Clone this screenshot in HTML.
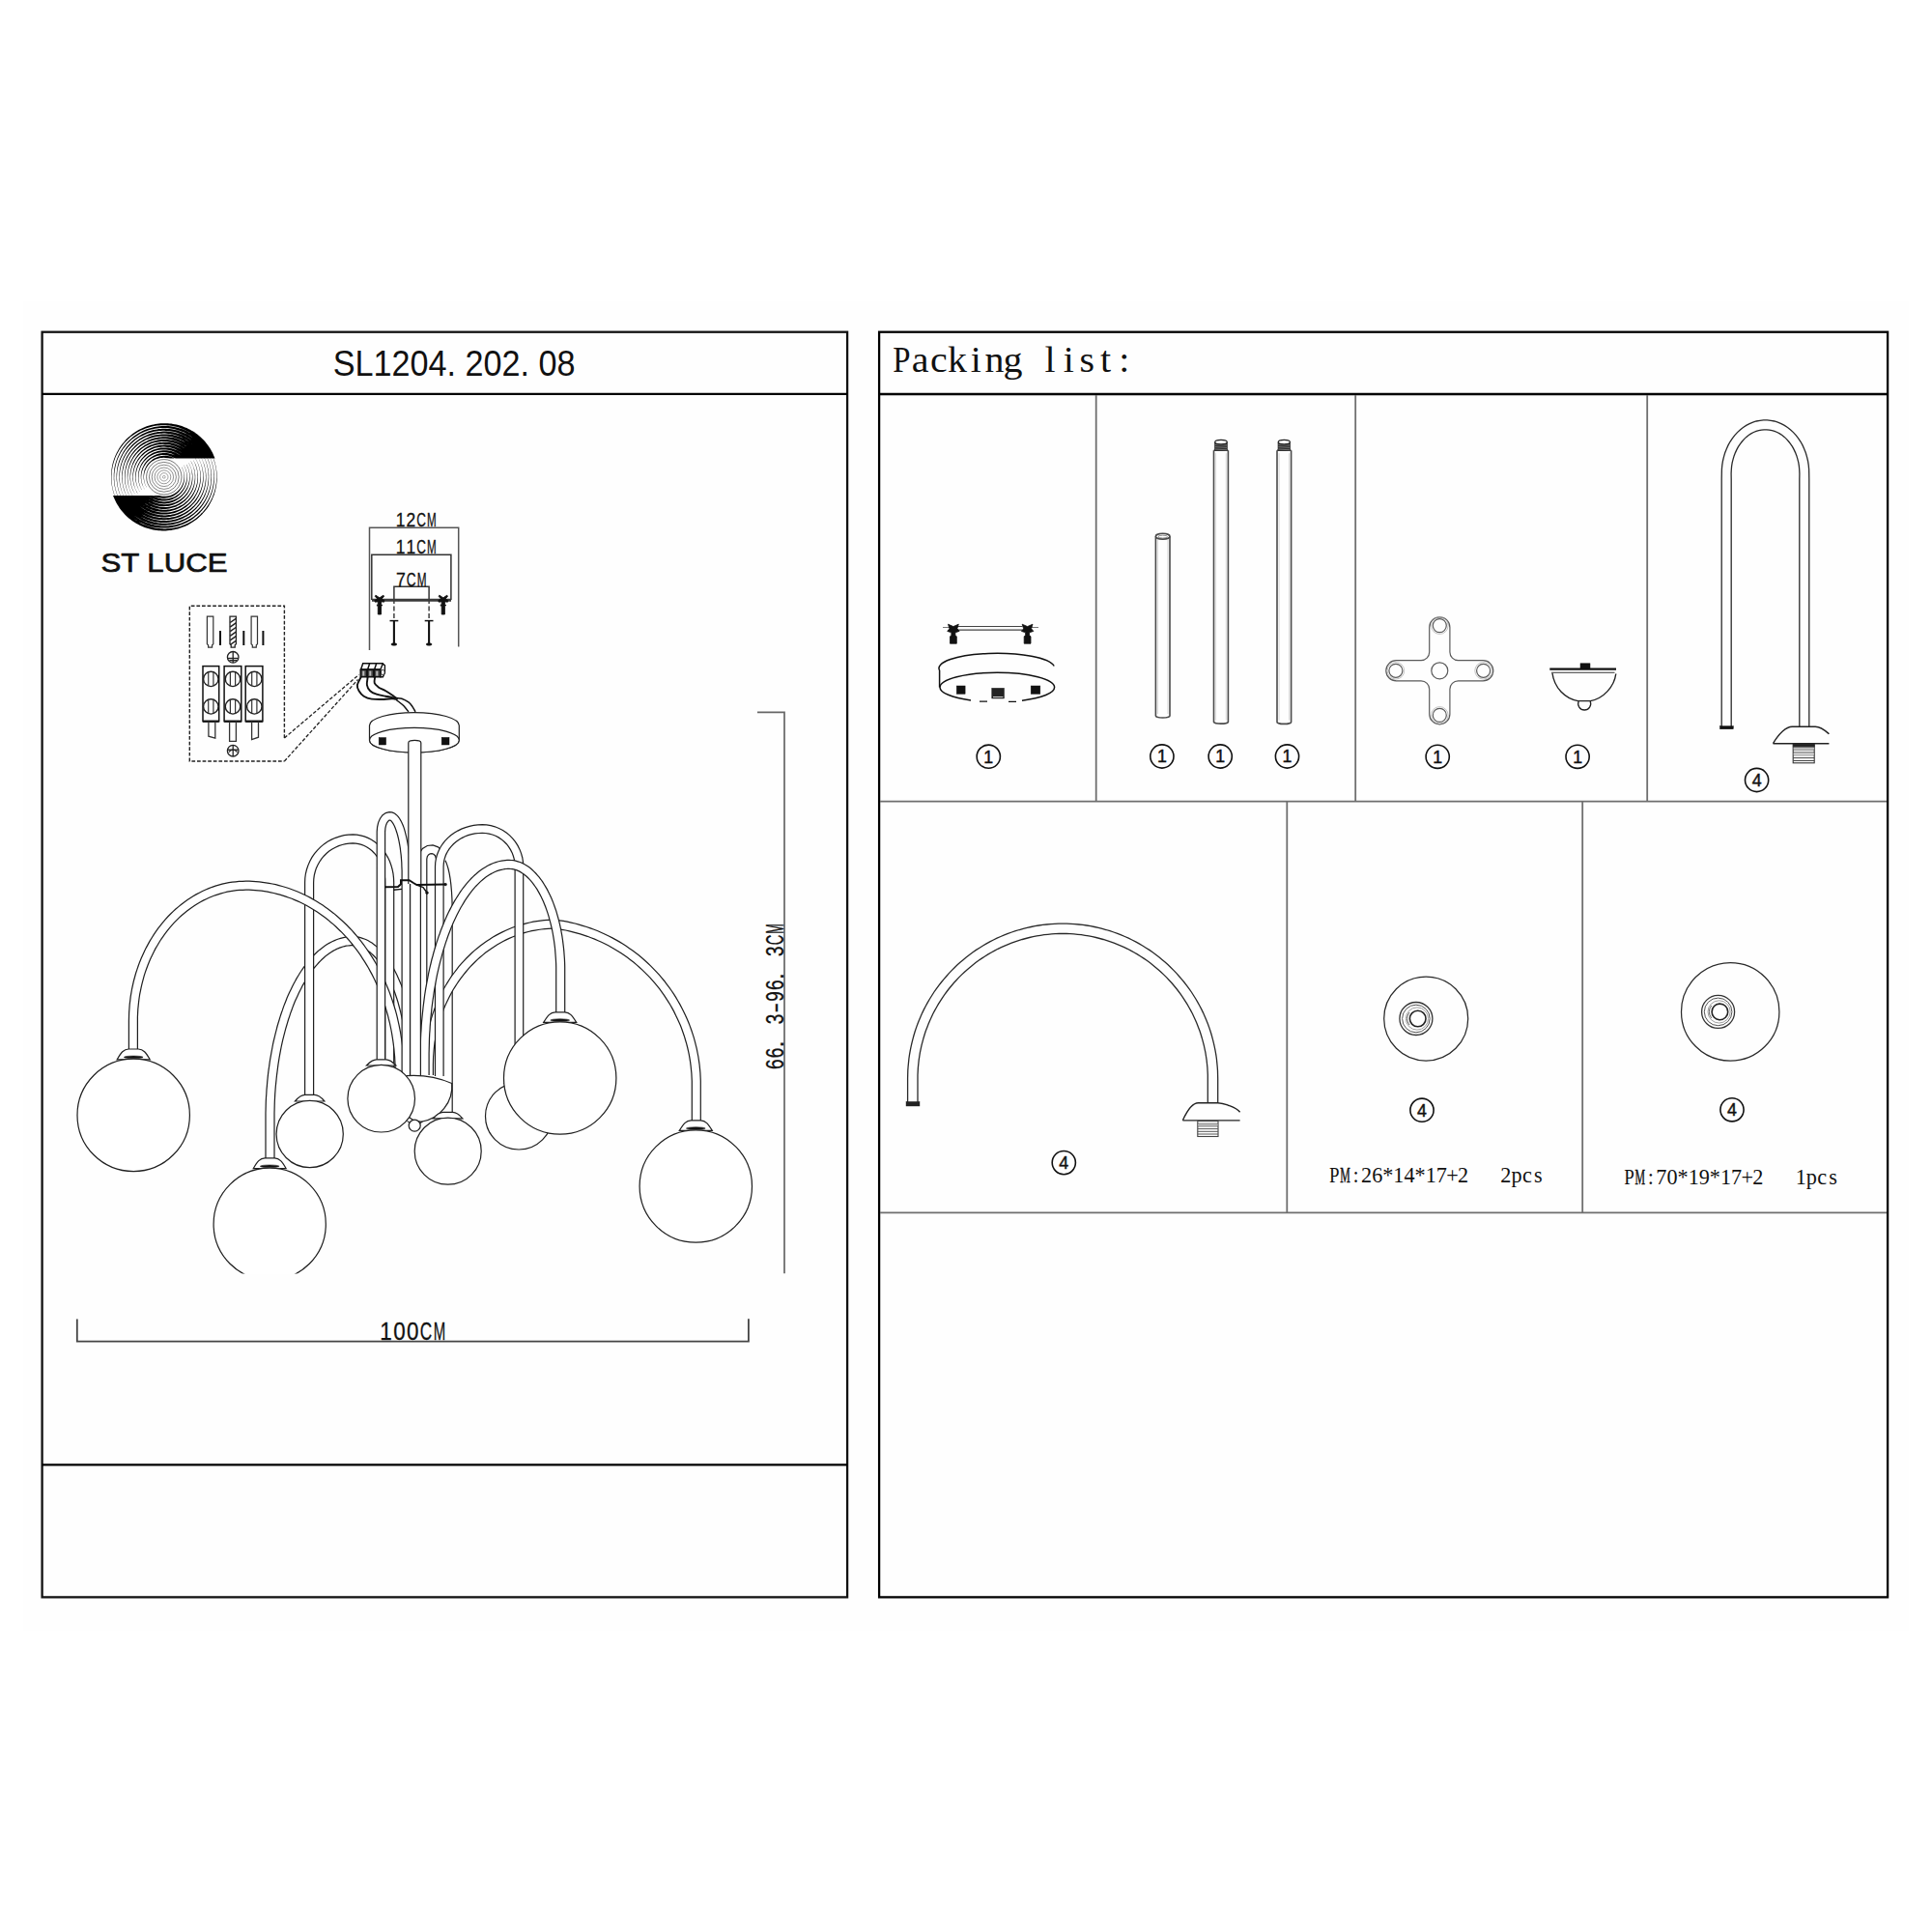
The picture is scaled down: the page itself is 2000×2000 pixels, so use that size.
<!DOCTYPE html>
<html><head><meta charset="utf-8"><title>SL1204.202.08</title>
<style>
html,body{margin:0;padding:0;background:#fff;}
body{width:2000px;height:2000px;position:relative;overflow:hidden;font-family:"Liberation Sans",sans-serif;}
</style></head><body>
<svg width="2000" height="2000" viewBox="0 0 2000 2000" style="position:absolute;left:0;top:0">
<rect x="24" y="312" width="1952" height="1376" fill="#fefefe" stroke="none" stroke-width="0" />
<rect x="43.6" y="343.7" width="833.5" height="1309.7" fill="none" stroke="#111" stroke-width="2.3" />
<line x1="43.6" y1="407.8" x2="877.1" y2="407.8" stroke="#000" stroke-width="2.3" />
<line x1="43.6" y1="1516.3" x2="877.1" y2="1516.3" stroke="#000" stroke-width="2.3" />
<rect x="910.1" y="343.7" width="1044" height="1309.7" fill="none" stroke="#000" stroke-width="2.3" />
<line x1="910.2" y1="408" x2="1954.2" y2="408" stroke="#000" stroke-width="2.3" />
<line x1="911" y1="829.7" x2="1953" y2="829.7" stroke="#6e6e6e" stroke-width="1.8" />
<line x1="911" y1="1255.4" x2="1953" y2="1255.4" stroke="#6e6e6e" stroke-width="1.8" />
<line x1="1134.7" y1="409" x2="1134.7" y2="829.7" stroke="#6e6e6e" stroke-width="1.8" />
<line x1="1403.2" y1="409" x2="1403.2" y2="829.7" stroke="#6e6e6e" stroke-width="1.8" />
<line x1="1705.2" y1="409" x2="1705.2" y2="829.7" stroke="#6e6e6e" stroke-width="1.8" />
<line x1="1332.3" y1="829.7" x2="1332.3" y2="1255.4" stroke="#6e6e6e" stroke-width="1.8" />
<line x1="1638.2" y1="829.7" x2="1638.2" y2="1255.4" stroke="#6e6e6e" stroke-width="1.8" />
<text x="344.8" y="389.4" font-family="Liberation Sans" font-size="36.3" text-anchor="start" fill="#111" font-weight="normal" textLength="250.8" lengthAdjust="spacingAndGlyphs" xml:space="preserve">SL1204. 202. 08</text>
<g font-family="Liberation Serif" font-size="37.7" text-anchor="middle" fill="#111" ><text transform="translate(933.4,385) scale(0.870,1)">P</text><text transform="translate(952.6,385) scale(1.060,1)">a</text><text transform="translate(971.8,385) scale(1.060,1)">c</text><text transform="translate(991,385) scale(1.060,1)">k</text><text transform="translate(1010.2,385) scale(1.060,1)">i</text><text transform="translate(1029.4,385) scale(1.060,1)">n</text><text transform="translate(1048.6,385) scale(1.060,1)">g</text><text transform="translate(1087,385) scale(1.060,1)">l</text><text transform="translate(1106.2,385) scale(1.060,1)">i</text><text transform="translate(1125.4,385) scale(1.060,1)">s</text><text transform="translate(1144.6,385) scale(1.060,1)">t</text><text transform="translate(1163.8,385) scale(1.060,1)">:</text></g>
<circle cx="1023.3" cy="783.2" r="12.1" fill="none" stroke="#111" stroke-width="1.6" />
<text x="1023.3" y="789.6" font-family="Liberation Sans" font-size="17.8" text-anchor="middle" fill="#111" font-weight="normal" stroke="#111" stroke-width="0.45">1</text>
<circle cx="1202.9" cy="783" r="12.1" fill="none" stroke="#111" stroke-width="1.6" />
<text x="1202.9" y="789.4" font-family="Liberation Sans" font-size="17.8" text-anchor="middle" fill="#111" font-weight="normal" stroke="#111" stroke-width="0.45">1</text>
<circle cx="1263.2" cy="783" r="12.1" fill="none" stroke="#111" stroke-width="1.6" />
<text x="1263.2" y="789.4" font-family="Liberation Sans" font-size="17.8" text-anchor="middle" fill="#111" font-weight="normal" stroke="#111" stroke-width="0.45">1</text>
<circle cx="1332.5" cy="783" r="12.1" fill="none" stroke="#111" stroke-width="1.6" />
<text x="1332.5" y="789.4" font-family="Liberation Sans" font-size="17.8" text-anchor="middle" fill="#111" font-weight="normal" stroke="#111" stroke-width="0.45">1</text>
<circle cx="1488.2" cy="783.3" r="12.1" fill="none" stroke="#111" stroke-width="1.6" />
<text x="1488.2" y="789.7" font-family="Liberation Sans" font-size="17.8" text-anchor="middle" fill="#111" font-weight="normal" stroke="#111" stroke-width="0.45">1</text>
<circle cx="1633.1" cy="783.3" r="12.1" fill="none" stroke="#111" stroke-width="1.6" />
<text x="1633.1" y="789.7" font-family="Liberation Sans" font-size="17.8" text-anchor="middle" fill="#111" font-weight="normal" stroke="#111" stroke-width="0.45">1</text>
<circle cx="1818.6" cy="807.5" r="12.1" fill="none" stroke="#111" stroke-width="1.6" />
<text x="1818.6" y="813.9" font-family="Liberation Sans" font-size="17.8" text-anchor="middle" fill="#111" font-weight="normal" stroke="#111" stroke-width="0.45">4</text>
<circle cx="1101.3" cy="1203.6" r="12.1" fill="none" stroke="#111" stroke-width="1.6" />
<text x="1101.3" y="1210" font-family="Liberation Sans" font-size="17.8" text-anchor="middle" fill="#111" font-weight="normal" stroke="#111" stroke-width="0.45">4</text>
<circle cx="1472" cy="1149.2" r="12.1" fill="none" stroke="#111" stroke-width="1.6" />
<text x="1472" y="1155.6" font-family="Liberation Sans" font-size="17.8" text-anchor="middle" fill="#111" font-weight="normal" stroke="#111" stroke-width="0.45">4</text>
<circle cx="1793" cy="1148.8" r="12.1" fill="none" stroke="#111" stroke-width="1.6" />
<text x="1793" y="1155.2" font-family="Liberation Sans" font-size="17.8" text-anchor="middle" fill="#111" font-weight="normal" stroke="#111" stroke-width="0.45">4</text>
<g font-family="Liberation Serif" font-size="22.2" text-anchor="middle" fill="#111" xml:space="preserve"><text transform="translate(1381.2,1223.5) scale(0.854,1)">P</text><text transform="translate(1392.4,1223.5) scale(0.534,1)" stroke="#111" stroke-width="0.5">M</text><text x="1403.5" y="1223.5">:</text><text x="1414.5" y="1223.5">2</text><text x="1425.7" y="1223.5">6</text><text x="1436.8" y="1223.5">*</text><text x="1447.9" y="1223.5">1</text><text x="1459" y="1223.5">4</text><text x="1470" y="1223.5">*</text><text x="1481.2" y="1223.5">1</text><text x="1492.2" y="1223.5">7</text><text x="1503.4" y="1223.5">+</text><text x="1514.5" y="1223.5">2</text><text x="1558.9" y="1223.5">2</text><text x="1570" y="1223.5">p</text><text x="1581" y="1223.5">c</text><text x="1592.2" y="1223.5">s</text></g>
<g font-family="Liberation Serif" font-size="22.2" text-anchor="middle" fill="#111" xml:space="preserve"><text transform="translate(1686.5,1225.9) scale(0.854,1)">P</text><text transform="translate(1697.7,1225.9) scale(0.534,1)" stroke="#111" stroke-width="0.5">M</text><text x="1708.8" y="1225.9">:</text><text x="1719.8" y="1225.9">7</text><text x="1731" y="1225.9">0</text><text x="1742" y="1225.9">*</text><text x="1753.2" y="1225.9">1</text><text x="1764.2" y="1225.9">9</text><text x="1775.3" y="1225.9">*</text><text x="1786.5" y="1225.9">1</text><text x="1797.5" y="1225.9">7</text><text x="1808.7" y="1225.9">+</text><text x="1819.8" y="1225.9">2</text><text x="1864.2" y="1225.9">1</text><text x="1875.2" y="1225.9">p</text><text x="1886.3" y="1225.9">c</text><text x="1897.5" y="1225.9">s</text></g>
<defs><clipPath id="lc1"><path d="M100,430H240V474.6 H169.8 V560 H100Z"/></clipPath><clipPath id="lc2"><path d="M240,560H100V513 H169.8 V430 H240Z"/></clipPath></defs>
<path d="M180.6,474.3L178.8,473.4 177,472.8 175.2,472.3 173.3,472 171.4,471.8 169.5,471.8 167.6,472 165.7,472.3 163.8,472.8 162.1,473.4 160.3,474.2 158.7,475.1 157.2,476.2 155.7,477.4 154.4,478.7 153.2,480.1 152.1,481.6 151.1,483.2 150.3,484.9 149.6,486.6 149.1,488.4 148.8,490.2 148.6,492.1 148.6,493.9 148.7,495.7 149,497.6 149.4,499.3 150,501.1 150.7,502.8 151.6,504.4 151.7,504.3 150.9,502.7 150.2,501 149.7,499.3 149.3,497.5 149.1,495.7 149,493.9 149.1,492.1 149.4,490.3 149.8,488.6 150.4,486.9 151.1,485.3 151.9,483.7 152.9,482.2 154,480.8 155.2,479.5 156.5,478.3 157.9,477.3 159.4,476.4 161,475.6 162.6,474.9 164.3,474.4 166,474.1 167.7,473.9 169.5,473.8 171.2,473.9 172.9,474.2 174.6,474.6 176.2,475.1 177.8,475.8 179.3,476.6ZM186.5,474.8L184.9,473.6 183.3,472.6 181.6,471.6 179.8,470.8 178,470.2 176.2,469.7 174.3,469.3 172.4,469.1 170.5,469 168.6,469 166.7,469.3 164.8,469.6 163,470.1 161.2,470.7 159.5,471.5 157.8,472.4 156.2,473.4 154.7,474.6 153.3,475.8 152,477.1 150.8,478.6 149.7,480.1 148.8,481.7 147.9,483.4 147.2,485.1 146.6,486.9 146.2,488.7 145.9,490.5 145.8,492.3 145.8,494.2 145.9,496 146.2,497.9 146.6,499.7 147.1,501.4 147.8,503.1 148.6,504.8 149.5,506.4 149.6,506.3 148.7,504.7 148,503 147.4,501.3 146.9,499.6 146.5,497.8 146.3,496 146.2,494.2 146.3,492.4 146.5,490.6 146.9,488.8 147.4,487.1 148,485.4 148.7,483.7 149.6,482.2 150.6,480.7 151.6,479.3 152.8,477.9 154.1,476.7 155.5,475.6 157,474.6 158.5,473.7 160.1,472.9 161.8,472.3 163.5,471.8 165.2,471.4 166.9,471.1 168.7,471 170.4,471 172.2,471.2 173.9,471.5 175.6,471.9 177.2,472.5 178.8,473.2 180.4,474 181.8,474.9 183.2,475.9 184.5,477ZM190.9,475.3L189.6,473.9 188.2,472.6 186.7,471.4 185.1,470.4 183.4,469.4 181.7,468.6 180,467.9 178.2,467.3 176.3,466.8 174.5,466.5 172.6,466.3 170.7,466.2 168.8,466.2 166.9,466.4 165.1,466.7 163.3,467.1 161.5,467.7 159.7,468.3 158,469.1 156.4,470 154.8,471 153.3,472.1 151.9,473.3 150.6,474.6 149.3,476 148.2,477.4 147.1,479 146.2,480.6 145.4,482.2 144.7,483.9 144.1,485.7 143.6,487.4 143.3,489.2 143.1,491.1 143,492.9 143,494.7 143.1,496.6 143.4,498.4 143.8,500.1 144.3,501.9 144.9,503.6 145.7,505.3 146.5,506.9 146.7,506.8 145.9,505.2 145.2,503.5 144.6,501.8 144.1,500.1 143.8,498.3 143.5,496.5 143.4,494.7 143.5,492.9 143.6,491.1 143.9,489.3 144.3,487.6 144.8,485.9 145.4,484.2 146.2,482.6 147,481 148,479.5 149,478.1 150.2,476.7 151.4,475.4 152.7,474.2 154.1,473.1 155.6,472.2 157.1,471.3 158.7,470.5 160.3,469.8 162,469.3 163.7,468.8 165.4,468.5 167.1,468.3 168.9,468.2 170.6,468.2 172.4,468.4 174.1,468.7 175.8,469.1 177.4,469.6 179.1,470.2 180.6,470.9 182.1,471.8 183.6,472.7 185,473.7 186.3,474.8 187.5,476 188.7,477.3ZM194.9,475.7L193.7,474.2 192.4,472.8 191.1,471.4 189.6,470.1 188.1,469 186.5,467.9 184.8,467 183.1,466.1 181.3,465.4 179.5,464.8 177.7,464.3 175.8,463.9 173.9,463.6 172.1,463.4 170.2,463.4 168.3,463.5 166.4,463.6 164.5,463.9 162.7,464.4 160.9,464.9 159.1,465.5 157.4,466.3 155.7,467.2 154.1,468.1 152.5,469.2 151.1,470.3 149.6,471.6 148.3,472.9 147.1,474.3 145.9,475.7 144.9,477.3 143.9,478.9 143.1,480.5 142.3,482.2 141.7,484 141.1,485.7 140.7,487.6 140.4,489.4 140.2,491.2 140.2,493.1 140.2,494.9 140.3,496.8 140.6,498.6 141,500.4 141.5,502.2 142.1,503.9 142.8,505.6 143.6,507.3 144.5,508.9 144.6,508.8 143.7,507.2 143,505.5 142.3,503.8 141.7,502.1 141.3,500.3 141,498.5 140.8,496.7 140.6,494.9 140.7,493.1 140.8,491.3 141,489.5 141.4,487.7 141.8,485.9 142.4,484.2 143.1,482.6 143.9,480.9 144.7,479.3 145.7,477.8 146.8,476.4 147.9,475 149.2,473.7 150.5,472.5 151.9,471.3 153.3,470.3 154.8,469.3 156.4,468.5 158,467.7 159.7,467.1 161.4,466.5 163.1,466.1 164.8,465.8 166.6,465.5 168.4,465.4 170.1,465.4 171.9,465.5 173.6,465.8 175.4,466.1 177.1,466.5 178.8,467.1 180.4,467.7 182,468.5 183.5,469.3 185,470.2 186.4,471.3 187.7,472.4 189,473.6 190.2,474.8 191.4,476.1 192.4,477.5ZM198.5,476.1L197.5,474.6 196.3,473 195.1,471.6 193.8,470.2 192.5,468.9 191,467.7 189.5,466.6 187.9,465.5 186.3,464.6 184.6,463.7 182.8,463 181.1,462.3 179.3,461.8 177.5,461.3 175.6,461 173.8,460.8 171.9,460.6 170,460.6 168.2,460.7 166.3,460.8 164.5,461.1 162.6,461.5 160.8,462 159.1,462.6 157.3,463.2 155.7,464 154,464.9 152.4,465.8 150.9,466.9 149.4,468 148,469.2 146.7,470.5 145.5,471.9 144.3,473.3 143.2,474.8 142.2,476.3 141.3,477.9 140.4,479.5 139.7,481.2 139.1,482.9 138.5,484.7 138.1,486.5 137.8,488.3 137.5,490.1 137.4,491.9 137.4,493.7 137.4,495.6 137.6,497.4 137.9,499.2 138.2,501 138.7,502.7 139.3,504.4 139.9,506.1 140.7,507.8 141.5,509.4 142.5,510.9 142.6,510.9 141.7,509.3 140.9,507.7 140.1,506 139.5,504.4 139,502.6 138.6,500.9 138.2,499.1 138,497.3 137.9,495.5 137.8,493.7 137.9,491.9 138.1,490.1 138.4,488.4 138.8,486.6 139.2,484.9 139.8,483.2 140.5,481.5 141.2,479.9 142.1,478.3 143,476.8 144,475.4 145.1,474 146.3,472.6 147.5,471.4 148.9,470.2 150.2,469 151.7,468 153.2,467.1 154.7,466.2 156.3,465.4 157.9,464.7 159.6,464.1 161.3,463.6 163,463.2 164.7,462.9 166.5,462.7 168.3,462.6 170,462.6 171.8,462.7 173.5,462.9 175.2,463.2 176.9,463.6 178.6,464.1 180.2,464.6 181.9,465.3 183.4,466.1 184.9,466.9 186.4,467.8 187.8,468.8 189.2,469.9 190.5,471.1 191.7,472.3 192.9,473.5 194,474.9 195,476.3 196,477.7ZM201.9,476.5L201,474.9 200,473.3 198.9,471.7 197.7,470.3 196.4,468.8 195.1,467.5 193.7,466.2 192.2,465.1 190.6,464 189,462.9 187.4,462 185.7,461.2 184,460.4 182.2,459.8 180.4,459.2 178.6,458.7 176.7,458.3 174.9,458.1 173,457.9 171.1,457.8 169.3,457.8 167.4,457.9 165.5,458.1 163.7,458.4 161.9,458.8 160.1,459.3 158.3,459.9 156.5,460.5 154.8,461.3 153.2,462.1 151.6,463.1 150,464.1 148.5,465.2 147.1,466.3 145.7,467.6 144.4,468.9 143.1,470.3 142,471.7 140.9,473.2 139.9,474.7 138.9,476.3 138.1,478 137.3,479.6 136.7,481.4 136.1,483.1 135.6,484.9 135.2,486.7 134.9,488.5 134.7,490.3 134.6,492.1 134.6,494 134.6,495.8 134.8,497.6 135.1,499.4 135.4,501.2 135.9,503 136.4,504.8 137,506.5 137.8,508.2 138.6,509.8 139.5,511.4 139.6,511.3 138.7,509.7 138,508.1 137.3,506.4 136.7,504.7 136.2,502.9 135.8,501.2 135.4,499.4 135.2,497.6 135.1,495.8 135,494 135.1,492.2 135.3,490.4 135.5,488.6 135.8,486.8 136.3,485.1 136.8,483.3 137.4,481.6 138.1,480 138.9,478.4 139.8,476.8 140.7,475.3 141.7,473.8 142.8,472.4 144,471 145.2,469.7 146.5,468.5 147.9,467.3 149.3,466.2 150.8,465.2 152.3,464.3 153.9,463.5 155.5,462.7 157.1,462 158.8,461.4 160.5,460.9 162.2,460.5 164,460.2 165.8,460 167.5,459.8 169.3,459.8 171.1,459.9 172.8,460 174.6,460.2 176.3,460.6 178,461 179.7,461.5 181.4,462.1 183,462.7 184.6,463.5 186.1,464.3 187.6,465.2 189,466.2 190.4,467.3 191.7,468.4 193,469.6 194.2,470.9 195.4,472.2 196.5,473.5 197.5,474.9 198.5,476.4 199.3,477.9ZM205.2,476.9L204.4,475.2 203.5,473.6 202.5,472 201.4,470.5 200.2,469 199,467.6 197.7,466.2 196.4,464.9 195,463.7 193.5,462.5 191.9,461.5 190.4,460.5 188.7,459.6 187.1,458.7 185.4,458 183.6,457.3 181.9,456.7 180.1,456.2 178.3,455.8 176.4,455.5 174.6,455.2 172.8,455.1 170.9,455 169.1,455 167.2,455.1 165.4,455.3 163.5,455.6 161.7,456 159.9,456.4 158.2,456.9 156.4,457.6 154.7,458.3 153.1,459 151.4,459.9 149.9,460.8 148.3,461.9 146.8,462.9 145.4,464.1 144,465.3 142.7,466.6 141.5,467.9 140.3,469.3 139.2,470.7 138.1,472.2 137.2,473.8 136.3,475.4 135.4,477 134.7,478.7 134,480.4 133.5,482.1 133,483.9 132.6,485.6 132.2,487.4 132,489.2 131.8,491 131.8,492.8 131.8,494.6 131.9,496.5 132.1,498.3 132.3,500.1 132.7,501.8 133.1,503.6 133.7,505.3 134.3,507 134.9,508.7 135.7,510.3 136.5,511.9 137.5,513.5 137.6,513.4 136.7,511.9 135.9,510.3 135.1,508.6 134.5,506.9 133.9,505.2 133.4,503.5 133,501.8 132.7,500 132.5,498.2 132.3,496.4 132.2,494.6 132.3,492.8 132.4,491.1 132.6,489.3 132.8,487.5 133.2,485.8 133.7,484 134.2,482.3 134.8,480.7 135.5,479 136.2,477.4 137.1,475.8 138,474.3 139,472.8 140,471.4 141.1,470 142.3,468.7 143.6,467.4 144.9,466.2 146.2,465.1 147.6,464 149.1,463 150.6,462.1 152.2,461.2 153.7,460.4 155.4,459.7 157,459.1 158.7,458.6 160.4,458.1 162.1,457.7 163.8,457.4 165.6,457.2 167.3,457.1 169.1,457 170.8,457 172.6,457.2 174.3,457.4 176.1,457.7 177.8,458 179.5,458.5 181.1,459 182.8,459.6 184.4,460.3 185.9,461.1 187.5,461.9 188.9,462.8 190.4,463.8 191.8,464.8 193.1,465.9 194.4,467.1 195.6,468.3 196.8,469.5 197.9,470.9 199,472.2 200,473.6 200.9,475.1 201.8,476.6 202.6,478.2ZM208.5,477.2L207.7,475.5 206.8,473.8 205.9,472.2 204.9,470.6 203.8,469.1 202.7,467.6 201.5,466.1 200.2,464.7 198.9,463.4 197.5,462.2 196.1,461 194.6,459.9 193,458.8 191.4,457.8 189.8,456.9 188.1,456.1 186.4,455.4 184.7,454.7 182.9,454.1 181.1,453.6 179.3,453.1 177.5,452.8 175.6,452.5 173.8,452.3 171.9,452.2 170.1,452.2 168.2,452.2 166.4,452.4 164.5,452.6 162.7,452.9 160.9,453.3 159.1,453.7 157.3,454.3 155.6,454.9 153.9,455.6 152.2,456.4 150.6,457.2 149,458.1 147.4,459.1 145.9,460.1 144.4,461.3 143,462.4 141.7,463.7 140.4,465 139.1,466.3 138,467.7 136.8,469.2 135.8,470.7 134.8,472.3 133.9,473.8 133.1,475.5 132.3,477.1 131.6,478.8 131,480.6 130.5,482.3 130,484.1 129.7,485.9 129.4,487.7 129.1,489.5 129,491.3 129,493.1 129,494.9 129.1,496.7 129.3,498.6 129.5,500.4 129.9,502.1 130.3,503.9 130.8,505.6 131.4,507.4 132.1,509.1 132.8,510.7 133.6,512.3 134.5,513.9 135.4,515.5 135.5,515.4 134.6,513.9 133.7,512.3 133,510.6 132.3,509 131.6,507.3 131.1,505.6 130.6,503.8 130.2,502.1 129.9,500.3 129.7,498.5 129.5,496.7 129.4,494.9 129.5,493.1 129.5,491.3 129.7,489.5 130,487.7 130.3,486 130.7,484.2 131.2,482.5 131.7,480.8 132.4,479.1 133.1,477.5 133.9,475.9 134.7,474.3 135.6,472.8 136.6,471.3 137.7,469.8 138.8,468.4 140,467.1 141.2,465.8 142.5,464.6 143.8,463.4 145.2,462.3 146.7,461.3 148.2,460.3 149.7,459.4 151.3,458.5 152.9,457.8 154.5,457.1 156.2,456.4 157.8,455.9 159.5,455.4 161.3,455 163,454.7 164.8,454.5 166.5,454.3 168.3,454.2 170.1,454.2 171.8,454.3 173.6,454.4 175.3,454.7 177.1,455 178.8,455.4 180.5,455.9 182.1,456.4 183.8,457 185.4,457.7 187,458.4 188.5,459.3 190,460.2 191.5,461.1 192.9,462.1 194.3,463.2 195.6,464.4 196.9,465.6 198.1,466.8 199.3,468.1 200.4,469.4 201.4,470.8 202.4,472.2 203.4,473.7 204.2,475.2 205,476.8 205.7,478.4ZM211.6,477.5L210.9,475.8 210.1,474.1 209.3,472.4 208.3,470.8 207.3,469.2 206.3,467.6 205.2,466.1 204,464.7 202.7,463.3 201.4,461.9 200.1,460.6 198.6,459.4 197.1,458.3 195.6,457.2 194,456.2 192.4,455.2 190.8,454.3 189.1,453.5 187.4,452.7 185.7,452.1 183.9,451.5 182.1,450.9 180.3,450.5 178.5,450.1 176.6,449.8 174.8,449.6 172.9,449.5 171.1,449.4 169.2,449.4 167.3,449.5 165.5,449.7 163.7,449.9 161.8,450.2 160,450.6 158.2,451.1 156.5,451.6 154.7,452.2 153,452.9 151.3,453.7 149.7,454.5 148,455.4 146.5,456.4 144.9,457.4 143.5,458.5 142,459.6 140.6,460.8 139.3,462.1 138,463.4 136.8,464.8 135.6,466.2 134.5,467.7 133.4,469.2 132.5,470.7 131.5,472.3 130.7,474 129.9,475.6 129.2,477.3 128.6,479 128,480.8 127.5,482.5 127.1,484.3 126.8,486.1 126.5,487.9 126.3,489.7 126.2,491.6 126.2,493.4 126.2,495.2 126.3,497 126.5,498.8 126.8,500.7 127.1,502.4 127.5,504.2 128,506 128.5,507.7 129.2,509.4 129.9,511.1 130.6,512.7 131.5,514.4 132.4,515.9 132.5,515.9 131.6,514.3 130.8,512.7 130.1,511 129.4,509.3 128.8,507.6 128.3,505.9 127.8,504.1 127.4,502.4 127.1,500.6 126.9,498.8 126.7,497 126.7,495.2 126.6,493.4 126.7,491.6 126.9,489.8 127.1,488 127.4,486.2 127.8,484.5 128.2,482.7 128.7,481 129.3,479.3 130,477.6 130.7,476 131.5,474.4 132.4,472.8 133.3,471.2 134.3,469.8 135.3,468.3 136.4,466.9 137.6,465.5 138.8,464.2 140.1,463 141.4,461.8 142.8,460.6 144.2,459.5 145.7,458.5 147.2,457.6 148.8,456.7 150.3,455.8 152,455.1 153.6,454.4 155.3,453.8 157,453.2 158.7,452.7 160.4,452.3 162.2,452 163.9,451.7 165.7,451.6 167.5,451.4 169.2,451.4 171,451.4 172.8,451.6 174.5,451.7 176.3,452 178,452.3 179.7,452.7 181.4,453.2 183.1,453.8 184.8,454.4 186.4,455.1 188,455.8 189.6,456.6 191.1,457.5 192.6,458.5 194,459.5 195.4,460.5 196.8,461.7 198.1,462.8 199.3,464 200.5,465.3 201.7,466.6 202.8,468 203.9,469.4 204.9,470.8 205.8,472.3 206.7,473.8 207.5,475.4 208.2,477 208.9,478.6ZM214.7,477.8L214.1,476.1 213.4,474.4 212.6,472.7 211.7,471.1 210.8,469.4 209.8,467.9 208.8,466.3 207.7,464.8 206.5,463.4 205.3,462 204,460.6 202.7,459.3 201.3,458 199.9,456.9 198.4,455.7 196.9,454.7 195.3,453.7 193.7,452.7 192.1,451.9 190.5,451 188.8,450.3 187,449.6 185.3,449 183.5,448.4 181.8,448 180,447.6 178.1,447.2 176.3,447 174.5,446.8 172.6,446.6 170.8,446.6 169,446.6 167.1,446.7 165.3,446.9 163.5,447.1 161.7,447.4 159.9,447.8 158.1,448.2 156.3,448.7 154.6,449.3 152.9,449.9 151.2,450.7 149.5,451.4 147.9,452.3 146.3,453.2 144.8,454.1 143.2,455.2 141.8,456.2 140.3,457.4 139,458.6 137.6,459.8 136.3,461.1 135.1,462.5 133.9,463.8 132.8,465.3 131.7,466.7 130.7,468.3 129.8,469.8 128.9,471.4 128,473 127.3,474.7 126.6,476.3 126,478 125.4,479.8 124.9,481.5 124.5,483.3 124.1,485.1 123.8,486.9 123.6,488.6 123.5,490.5 123.4,492.3 123.4,494.1 123.4,495.9 123.6,497.7 123.8,499.5 124,501.3 124.4,503 124.8,504.8 125.2,506.6 125.8,508.3 126.4,510 127.1,511.6 127.8,513.3 128.6,514.9 129.5,516.5 130.4,518 130.5,518 129.6,516.4 128.8,514.8 128,513.2 127.3,511.6 126.6,509.9 126,508.2 125.5,506.5 125.1,504.7 124.7,503 124.4,501.2 124.1,499.4 124,497.7 123.9,495.9 123.8,494.1 123.9,492.3 124,490.5 124.2,488.7 124.4,486.9 124.7,485.2 125.1,483.4 125.6,481.7 126.1,480 126.7,478.3 127.3,476.7 128.1,475 128.8,473.4 129.7,471.8 130.6,470.3 131.5,468.8 132.6,467.3 133.6,465.9 134.8,464.5 135.9,463.2 137.2,461.9 138.4,460.7 139.8,459.5 141.1,458.4 142.6,457.3 144,456.3 145.5,455.3 147,454.4 148.6,453.6 150.2,452.8 151.8,452.1 153.5,451.5 155.1,450.9 156.8,450.4 158.5,449.9 160.2,449.5 162,449.2 163.7,448.9 165.5,448.8 167.2,448.7 169,448.6 170.8,448.6 172.5,448.7 174.3,448.9 176,449.1 177.7,449.4 179.5,449.8 181.2,450.2 182.8,450.7 184.5,451.3 186.1,451.9 187.8,452.6 189.3,453.4 190.9,454.2 192.4,455 193.9,456 195.3,457 196.7,458 198.1,459.1 199.4,460.3 200.7,461.4 201.9,462.7 203.1,463.9 204.2,465.3 205.3,466.6 206.3,468 207.3,469.5 208.2,471 209.1,472.5 209.9,474 210.6,475.6 211.3,477.2 211.9,478.8ZM217.8,478.1L217.2,476.4 216.5,474.7 215.8,472.9 215,471.3 214.1,469.6 213.2,468 212.2,466.4 211.2,464.9 210.1,463.4 208.9,461.9 207.7,460.5 206.5,459.1 205.2,457.8 203.8,456.5 202.4,455.3 200.9,454.1 199.5,453 197.9,452 196.3,451 194.7,450.1 193.1,449.2 191.4,448.4 189.7,447.7 188,447 186.3,446.4 184.5,445.8 182.7,445.3 180.9,444.9 179.1,444.5 177.3,444.3 175.4,444 173.6,443.9 171.8,443.8 169.9,443.8 168.1,443.8 166.2,444 164.4,444.1 162.6,444.4 160.8,444.7 159,445.1 157.2,445.5 155.4,446.1 153.7,446.6 152,447.3 150.3,448 148.6,448.8 147,449.6 145.4,450.5 143.8,451.4 142.3,452.4 140.8,453.5 139.3,454.6 137.9,455.8 136.5,457 135.2,458.2 133.9,459.6 132.7,460.9 131.5,462.3 130.4,463.8 129.4,465.2 128.3,466.8 127.4,468.3 126.5,469.9 125.7,471.5 124.9,473.2 124.2,474.8 123.5,476.5 122.9,478.3 122.4,480 121.9,481.8 121.5,483.5 121.2,485.3 121,487.1 120.8,488.9 120.6,490.7 120.6,492.6 120.6,494.4 120.6,496.2 120.8,498 121,499.8 121.2,501.6 121.6,503.4 122,505.1 122.4,506.9 122.9,508.6 123.5,510.3 124.2,512 124.9,513.7 125.7,515.3 126.5,516.9 127.4,518.5 128.3,520 128.4,520 127.5,518.4 126.7,516.8 125.8,515.2 125.1,513.6 124.4,511.9 123.8,510.2 123.2,508.5 122.7,506.8 122.3,505.1 121.9,503.3 121.6,501.5 121.4,499.7 121.2,498 121.1,496.2 121,494.4 121.1,492.6 121.2,490.8 121.3,489 121.5,487.2 121.8,485.4 122.2,483.7 122.6,481.9 123.1,480.2 123.7,478.5 124.3,476.8 124.9,475.2 125.7,473.5 126.5,471.9 127.3,470.3 128.2,468.8 129.2,467.3 130.2,465.8 131.3,464.4 132.4,463 133.6,461.7 134.8,460.4 136.1,459.1 137.4,457.9 138.7,456.7 140.1,455.6 141.6,454.6 143,453.6 144.5,452.6 146.1,451.8 147.7,450.9 149.3,450.2 150.9,449.5 152.5,448.8 154.2,448.2 155.9,447.7 157.6,447.2 159.4,446.8 161.1,446.5 162.9,446.2 164.6,446 166.4,445.9 168.1,445.8 169.9,445.8 171.7,445.9 173.4,446 175.2,446.2 176.9,446.4 178.7,446.8 180.4,447.1 182.1,447.6 183.8,448.1 185.5,448.7 187.1,449.3 188.7,450 190.3,450.7 191.9,451.5 193.4,452.4 194.9,453.3 196.4,454.3 197.8,455.3 199.2,456.4 200.5,457.5 201.8,458.7 203.1,459.9 204.3,461.1 205.5,462.4 206.6,463.8 207.7,465.2 208.7,466.6 209.7,468 210.6,469.5 211.5,471 212.3,472.6 213.1,474.2 213.8,475.8 214.4,477.4 215,479.1ZM220.8,478.4L220.3,476.7 219.6,474.9 218.9,473.2 218.2,471.5 217.4,469.8 216.5,468.2 215.6,466.5 214.6,465 213.6,463.4 212.5,461.9 211.3,460.4 210.1,459 208.9,457.6 207.6,456.3 206.3,455 204.9,453.7 203.5,452.5 202,451.4 200.5,450.3 198.9,449.3 197.3,448.3 195.7,447.4 194.1,446.6 192.4,445.8 190.7,445 189,444.3 187.2,443.7 185.5,443.2 183.7,442.7 181.9,442.2 180.1,441.9 178.2,441.6 176.4,441.3 174.6,441.1 172.7,441 170.9,441 169,441 167.2,441.1 165.3,441.2 163.5,441.4 161.7,441.7 159.9,442 158.1,442.4 156.3,442.9 154.5,443.4 152.8,444 151.1,444.6 149.4,445.3 147.7,446.1 146,446.9 144.4,447.8 142.8,448.7 141.3,449.7 139.8,450.7 138.3,451.8 136.9,453 135.5,454.2 134.1,455.4 132.8,456.7 131.6,458 130.3,459.4 129.2,460.8 128.1,462.2 127,463.7 126,465.2 125,466.8 124.1,468.4 123.3,470 122.5,471.7 121.8,473.3 121.1,475 120.5,476.7 119.9,478.5 119.4,480.2 119,482 118.6,483.8 118.3,485.6 118.1,487.4 117.9,489.2 117.8,491 117.8,492.8 117.8,494.7 117.8,496.5 118,498.3 118.2,500.1 118.4,501.9 118.8,503.7 119.2,505.5 119.6,507.2 120.1,509 120.7,510.7 121.3,512.4 122,514.1 122.8,515.7 123.6,517.3 124.4,518.9 125.3,520.5 125.4,520.4 124.6,518.9 123.7,517.3 122.9,515.6 122.2,514 121.5,512.3 120.9,510.6 120.4,508.9 119.9,507.1 119.5,505.4 119.1,503.6 118.8,501.8 118.6,500 118.4,498.3 118.3,496.5 118.2,494.7 118.3,492.9 118.3,491.1 118.5,489.3 118.7,487.5 119,485.7 119.3,483.9 119.7,482.2 120.1,480.4 120.6,478.7 121.2,477 121.8,475.3 122.5,473.7 123.3,472 124.1,470.4 124.9,468.8 125.9,467.3 126.8,465.8 127.8,464.3 128.9,462.9 130,461.5 131.2,460.1 132.4,458.8 133.7,457.5 135,456.3 136.3,455.1 137.7,454 139.1,452.9 140.6,451.9 142.1,450.9 143.6,450 145.1,449.1 146.7,448.3 148.3,447.5 150,446.8 151.6,446.2 153.3,445.6 155,445 156.7,444.6 158.5,444.2 160.2,443.8 162,443.5 163.7,443.3 165.5,443.1 167.3,443 169.1,443 170.8,443 172.6,443.1 174.4,443.3 176.1,443.5 177.9,443.8 179.6,444.1 181.3,444.5 183.1,444.9 184.7,445.5 186.4,446 188.1,446.7 189.7,447.3 191.3,448.1 192.9,448.9 194.4,449.7 195.9,450.6 197.4,451.6 198.9,452.6 200.3,453.7 201.6,454.8 203,455.9 204.2,457.1 205.5,458.4 206.7,459.6 207.9,460.9 209,462.3 210.1,463.7 211.1,465.1 212.1,466.6 213,468.1 213.9,469.6 214.7,471.1 215.5,472.7 216.2,474.3 216.8,476 217.4,477.6 218,479.3ZM223.8,478.7L223.3,476.9 222.7,475.2 222.1,473.4 221.3,471.7 220.6,470 219.8,468.3 218.9,466.7 218,465.1 217,463.5 216,461.9 214.9,460.4 213.7,458.9 212.6,457.5 211.3,456.1 210,454.7 208.7,453.4 207.4,452.2 205.9,450.9 204.5,449.8 203,448.7 201.5,447.6 199.9,446.6 198.3,445.7 196.7,444.8 195,443.9 193.3,443.1 191.6,442.4 189.9,441.7 188.2,441.1 186.4,440.5 184.6,440 182.8,439.6 181,439.2 179.2,438.9 177.3,438.6 175.5,438.4 173.7,438.3 171.8,438.2 170,438.2 168.1,438.2 166.3,438.3 164.4,438.5 162.6,438.7 160.8,439 159,439.4 157.2,439.8 155.4,440.2 153.6,440.8 151.9,441.3 150.1,442 148.4,442.7 146.8,443.4 145.1,444.2 143.5,445.1 141.9,446 140.3,447 138.8,448 137.3,449.1 135.9,450.2 134.4,451.4 133.1,452.6 131.7,453.8 130.4,455.1 129.2,456.5 128,457.9 126.8,459.3 125.7,460.7 124.6,462.2 123.6,463.7 122.7,465.3 121.8,466.9 120.9,468.5 120.1,470.2 119.4,471.8 118.7,473.5 118,475.2 117.5,477 116.9,478.7 116.5,480.5 116.1,482.3 115.8,484.1 115.5,485.9 115.3,487.7 115.1,489.5 115,491.3 115,493.1 115,495 115.1,496.8 115.2,498.6 115.4,500.4 115.7,502.2 116,504 116.4,505.8 116.8,507.5 117.3,509.3 117.8,511 118.5,512.7 119.1,514.4 119.8,516.1 120.6,517.7 121.5,519.4 122.3,520.9 123.3,522.5 123.4,522.4 122.5,520.9 121.6,519.3 120.8,517.7 120,516 119.3,514.3 118.7,512.7 118.1,510.9 117.6,509.2 117.1,507.5 116.7,505.7 116.3,503.9 116,502.2 115.8,500.4 115.6,498.6 115.5,496.8 115.4,495 115.4,493.1 115.5,491.3 115.6,489.5 115.8,487.7 116.1,486 116.4,484.2 116.7,482.4 117.2,480.7 117.6,478.9 118.2,477.2 118.8,475.5 119.4,473.8 120.1,472.2 120.9,470.5 121.7,468.9 122.6,467.4 123.5,465.8 124.5,464.3 125.5,462.8 126.5,461.4 127.6,460 128.8,458.6 130,457.2 131.3,456 132.5,454.7 133.9,453.5 135.2,452.3 136.7,451.2 138.1,450.2 139.6,449.2 141.1,448.2 142.6,447.3 144.2,446.4 145.8,445.6 147.4,444.9 149.1,444.2 150.7,443.5 152.4,442.9 154.1,442.4 155.8,441.9 157.6,441.5 159.3,441.1 161.1,440.8 162.8,440.6 164.6,440.4 166.4,440.3 168.2,440.2 170,440.2 171.7,440.3 173.5,440.4 175.3,440.6 177,440.8 178.8,441.1 180.5,441.4 182.3,441.8 184,442.3 185.7,442.8 187.4,443.4 189,444 190.6,444.7 192.3,445.4 193.8,446.2 195.4,447.1 196.9,448 198.4,448.9 199.9,449.9 201.3,451 202.7,452 204.1,453.2 205.4,454.4 206.7,455.6 207.9,456.8 209.1,458.1 210.3,459.4 211.4,460.8 212.5,462.2 213.5,463.6 214.5,465.1 215.4,466.6 216.3,468.1 217.1,469.7 217.9,471.3 218.6,472.9 219.3,474.5 219.9,476.2 220.5,477.8 221,479.5Z" fill="#000" clip-path="url(#lc1)"/>
<path d="M159,513.3L160.8,514.2 162.6,514.8 164.4,515.3 166.3,515.6 168.2,515.8 170.1,515.8 172,515.6 173.9,515.3 175.8,514.8 177.5,514.2 179.3,513.4 180.9,512.5 182.4,511.4 183.9,510.2 185.2,508.9 186.4,507.5 187.5,506 188.5,504.4 189.3,502.7 190,501 190.5,499.2 190.8,497.4 191,495.5 191,493.7 190.9,491.9 190.6,490 190.2,488.3 189.6,486.5 188.9,484.8 188,483.2 187.9,483.3 188.7,484.9 189.4,486.6 189.9,488.3 190.3,490.1 190.5,491.9 190.6,493.7 190.5,495.5 190.2,497.3 189.8,499 189.2,500.7 188.5,502.3 187.7,503.9 186.7,505.4 185.6,506.8 184.4,508.1 183.1,509.3 181.7,510.3 180.2,511.2 178.6,512 177,512.7 175.3,513.2 173.6,513.5 171.9,513.7 170.1,513.8 168.4,513.7 166.7,513.4 165,513 163.4,512.5 161.8,511.8 160.3,511ZM153.1,512.8L154.7,514 156.3,515 158,516 159.8,516.8 161.6,517.4 163.4,517.9 165.3,518.3 167.2,518.5 169.1,518.6 171,518.6 172.9,518.3 174.8,518 176.6,517.5 178.4,516.9 180.1,516.1 181.8,515.2 183.4,514.2 184.9,513 186.3,511.8 187.6,510.5 188.8,509 189.9,507.5 190.8,505.9 191.7,504.2 192.4,502.5 193,500.7 193.4,498.9 193.7,497.1 193.8,495.3 193.8,493.4 193.7,491.6 193.4,489.7 193,487.9 192.5,486.2 191.8,484.5 191,482.8 190.1,481.2 190,481.3 190.9,482.9 191.6,484.6 192.2,486.3 192.7,488 193.1,489.8 193.3,491.6 193.4,493.4 193.3,495.2 193.1,497 192.7,498.8 192.2,500.5 191.6,502.2 190.9,503.9 190,505.4 189,506.9 188,508.3 186.8,509.7 185.5,510.9 184.1,512 182.6,513 181.1,513.9 179.5,514.7 177.8,515.3 176.1,515.8 174.4,516.2 172.7,516.5 170.9,516.6 169.2,516.6 167.4,516.4 165.7,516.1 164,515.7 162.4,515.1 160.8,514.4 159.2,513.6 157.8,512.7 156.4,511.7 155.1,510.6ZM148.7,512.3L150,513.7 151.4,515 152.9,516.2 154.5,517.2 156.2,518.2 157.9,519 159.6,519.7 161.4,520.3 163.3,520.8 165.1,521.1 167,521.3 168.9,521.4 170.8,521.4 172.7,521.2 174.5,520.9 176.3,520.5 178.1,519.9 179.9,519.3 181.6,518.5 183.2,517.6 184.8,516.6 186.3,515.5 187.7,514.3 189,513 190.3,511.6 191.4,510.2 192.5,508.6 193.4,507 194.2,505.4 194.9,503.7 195.5,501.9 196,500.2 196.3,498.4 196.5,496.5 196.6,494.7 196.6,492.9 196.5,491 196.2,489.2 195.8,487.5 195.3,485.7 194.7,484 193.9,482.3 193.1,480.7 192.9,480.8 193.7,482.4 194.4,484.1 195,485.8 195.5,487.5 195.8,489.3 196.1,491.1 196.2,492.9 196.1,494.7 196,496.5 195.7,498.3 195.3,500 194.8,501.7 194.2,503.4 193.4,505 192.6,506.6 191.6,508.1 190.6,509.5 189.4,510.9 188.2,512.2 186.9,513.4 185.5,514.5 184,515.4 182.5,516.3 180.9,517.1 179.3,517.8 177.6,518.3 175.9,518.8 174.2,519.1 172.5,519.3 170.7,519.4 169,519.4 167.2,519.2 165.5,518.9 163.8,518.5 162.2,518 160.5,517.4 159,516.7 157.5,515.8 156,514.9 154.6,513.9 153.3,512.8 152.1,511.6 150.9,510.3ZM144.7,511.9L145.9,513.4 147.2,514.8 148.5,516.2 150,517.5 151.5,518.6 153.1,519.7 154.8,520.6 156.5,521.5 158.3,522.2 160.1,522.8 161.9,523.3 163.8,523.7 165.7,524 167.5,524.2 169.4,524.2 171.3,524.1 173.2,524 175.1,523.7 176.9,523.2 178.7,522.7 180.5,522.1 182.2,521.3 183.9,520.4 185.5,519.5 187.1,518.4 188.5,517.3 190,516 191.3,514.7 192.5,513.3 193.7,511.9 194.7,510.3 195.7,508.7 196.5,507.1 197.3,505.4 197.9,503.6 198.5,501.9 198.9,500 199.2,498.2 199.4,496.4 199.4,494.5 199.4,492.7 199.3,490.8 199,489 198.6,487.2 198.1,485.4 197.5,483.7 196.8,482 196,480.3 195.1,478.7 195,478.8 195.9,480.4 196.6,482.1 197.3,483.8 197.9,485.5 198.3,487.3 198.6,489.1 198.8,490.9 199,492.7 198.9,494.5 198.8,496.3 198.6,498.1 198.2,499.9 197.8,501.7 197.2,503.4 196.5,505 195.7,506.7 194.9,508.3 193.9,509.8 192.8,511.2 191.7,512.6 190.4,513.9 189.1,515.1 187.7,516.3 186.3,517.3 184.8,518.3 183.2,519.1 181.6,519.9 179.9,520.5 178.2,521.1 176.5,521.5 174.8,521.8 173,522.1 171.2,522.2 169.5,522.2 167.7,522.1 166,521.8 164.2,521.5 162.5,521.1 160.8,520.5 159.2,519.9 157.6,519.1 156.1,518.3 154.6,517.4 153.2,516.3 151.9,515.2 150.6,514 149.4,512.8 148.2,511.5 147.2,510.1ZM141.1,511.5L142.1,513 143.3,514.6 144.5,516 145.8,517.4 147.1,518.7 148.6,519.9 150.1,521 151.7,522.1 153.3,523 155,523.9 156.8,524.6 158.5,525.3 160.3,525.8 162.1,526.3 164,526.6 165.8,526.8 167.7,527 169.6,527 171.4,526.9 173.3,526.8 175.1,526.5 177,526.1 178.8,525.6 180.5,525 182.3,524.4 183.9,523.6 185.6,522.7 187.2,521.8 188.7,520.7 190.2,519.6 191.6,518.4 192.9,517.1 194.1,515.7 195.3,514.3 196.4,512.8 197.4,511.3 198.3,509.7 199.2,508.1 199.9,506.4 200.5,504.7 201.1,502.9 201.5,501.1 201.8,499.3 202.1,497.5 202.2,495.7 202.2,493.9 202.2,492 202,490.2 201.7,488.4 201.4,486.6 200.9,484.9 200.3,483.2 199.7,481.5 198.9,479.8 198.1,478.2 197.1,476.7 197,476.7 197.9,478.3 198.7,479.9 199.5,481.6 200.1,483.2 200.6,485 201,486.7 201.4,488.5 201.6,490.3 201.7,492.1 201.8,493.9 201.7,495.7 201.5,497.5 201.2,499.2 200.8,501 200.4,502.7 199.8,504.4 199.1,506.1 198.4,507.7 197.5,509.3 196.6,510.8 195.6,512.2 194.5,513.6 193.3,515 192.1,516.2 190.7,517.4 189.4,518.6 187.9,519.6 186.4,520.5 184.9,521.4 183.3,522.2 181.7,522.9 180,523.5 178.3,524 176.6,524.4 174.9,524.7 173.1,524.9 171.3,525 169.6,525 167.8,524.9 166.1,524.7 164.4,524.4 162.7,524 161,523.5 159.4,523 157.7,522.3 156.2,521.5 154.7,520.7 153.2,519.8 151.8,518.8 150.4,517.7 149.1,516.5 147.9,515.3 146.7,514.1 145.6,512.7 144.6,511.3 143.6,509.9ZM137.7,511.1L138.6,512.7 139.6,514.3 140.7,515.9 141.9,517.3 143.2,518.8 144.5,520.1 145.9,521.4 147.4,522.5 149,523.6 150.6,524.7 152.2,525.6 153.9,526.4 155.6,527.2 157.4,527.8 159.2,528.4 161,528.9 162.9,529.3 164.7,529.5 166.6,529.7 168.5,529.8 170.3,529.8 172.2,529.7 174.1,529.5 175.9,529.2 177.7,528.8 179.5,528.3 181.3,527.7 183.1,527.1 184.8,526.3 186.4,525.5 188,524.5 189.6,523.5 191.1,522.4 192.5,521.3 193.9,520 195.2,518.7 196.5,517.3 197.6,515.9 198.7,514.4 199.7,512.9 200.7,511.3 201.5,509.6 202.3,508 202.9,506.2 203.5,504.5 204,502.7 204.4,500.9 204.7,499.1 204.9,497.3 205,495.5 205,493.6 205,491.8 204.8,490 204.5,488.2 204.2,486.4 203.7,484.6 203.2,482.8 202.6,481.1 201.8,479.4 201,477.8 200.1,476.2 200,476.3 200.9,477.9 201.6,479.5 202.3,481.2 202.9,482.9 203.4,484.7 203.8,486.4 204.2,488.2 204.4,490 204.5,491.8 204.6,493.6 204.5,495.4 204.3,497.2 204.1,499 203.8,500.8 203.3,502.5 202.8,504.3 202.2,506 201.5,507.6 200.7,509.2 199.8,510.8 198.9,512.3 197.9,513.8 196.8,515.2 195.6,516.6 194.4,517.9 193.1,519.1 191.7,520.3 190.3,521.4 188.8,522.4 187.3,523.3 185.7,524.1 184.1,524.9 182.5,525.6 180.8,526.2 179.1,526.7 177.4,527.1 175.6,527.4 173.8,527.6 172.1,527.8 170.3,527.8 168.5,527.7 166.8,527.6 165,527.4 163.3,527 161.6,526.6 159.9,526.1 158.2,525.5 156.6,524.9 155,524.1 153.5,523.3 152,522.4 150.6,521.4 149.2,520.3 147.9,519.2 146.6,518 145.4,516.7 144.2,515.4 143.1,514.1 142.1,512.7 141.1,511.2 140.3,509.7ZM134.4,510.7L135.2,512.4 136.1,514 137.1,515.6 138.2,517.1 139.4,518.6 140.6,520 141.9,521.4 143.2,522.7 144.6,523.9 146.1,525.1 147.7,526.1 149.2,527.1 150.9,528 152.5,528.9 154.2,529.6 156,530.3 157.7,530.9 159.5,531.4 161.3,531.8 163.2,532.1 165,532.4 166.8,532.5 168.7,532.6 170.5,532.6 172.4,532.5 174.2,532.3 176.1,532 177.9,531.6 179.7,531.2 181.4,530.7 183.2,530 184.9,529.3 186.5,528.6 188.2,527.7 189.7,526.8 191.3,525.7 192.8,524.7 194.2,523.5 195.6,522.3 196.9,521 198.1,519.7 199.3,518.3 200.4,516.9 201.5,515.4 202.4,513.8 203.3,512.2 204.2,510.6 204.9,508.9 205.6,507.2 206.1,505.5 206.6,503.7 207,502 207.4,500.2 207.6,498.4 207.8,496.6 207.8,494.8 207.8,493 207.7,491.1 207.5,489.3 207.3,487.5 206.9,485.8 206.5,484 205.9,482.3 205.3,480.6 204.7,478.9 203.9,477.3 203.1,475.7 202.1,474.1 202,474.2 202.9,475.7 203.7,477.3 204.5,479 205.1,480.7 205.7,482.4 206.2,484.1 206.6,485.8 206.9,487.6 207.1,489.4 207.3,491.2 207.4,493 207.3,494.8 207.2,496.5 207,498.3 206.8,500.1 206.4,501.8 205.9,503.6 205.4,505.3 204.8,506.9 204.1,508.6 203.4,510.2 202.5,511.8 201.6,513.3 200.6,514.8 199.6,516.2 198.5,517.6 197.3,518.9 196,520.2 194.7,521.4 193.4,522.5 192,523.6 190.5,524.6 189,525.5 187.4,526.4 185.9,527.2 184.2,527.9 182.6,528.5 180.9,529 179.2,529.5 177.5,529.9 175.8,530.2 174,530.4 172.3,530.5 170.5,530.6 168.8,530.6 167,530.4 165.3,530.2 163.5,529.9 161.8,529.6 160.1,529.1 158.5,528.6 156.8,528 155.2,527.3 153.7,526.5 152.1,525.7 150.7,524.8 149.2,523.8 147.8,522.8 146.5,521.7 145.2,520.5 144,519.3 142.8,518.1 141.7,516.7 140.6,515.4 139.6,514 138.7,512.5 137.8,511 137,509.4ZM131.1,510.4L131.9,512.1 132.8,513.8 133.7,515.4 134.7,517 135.8,518.5 136.9,520 138.1,521.5 139.4,522.9 140.7,524.2 142.1,525.4 143.5,526.6 145,527.7 146.6,528.8 148.2,529.8 149.8,530.7 151.5,531.5 153.2,532.2 154.9,532.9 156.7,533.5 158.5,534 160.3,534.5 162.1,534.8 164,535.1 165.8,535.3 167.7,535.4 169.5,535.4 171.4,535.4 173.2,535.2 175.1,535 176.9,534.7 178.7,534.3 180.5,533.9 182.3,533.3 184,532.7 185.7,532 187.4,531.2 189,530.4 190.6,529.5 192.2,528.5 193.7,527.5 195.2,526.3 196.6,525.2 197.9,523.9 199.2,522.6 200.5,521.3 201.6,519.9 202.8,518.4 203.8,516.9 204.8,515.3 205.7,513.8 206.5,512.1 207.3,510.5 208,508.8 208.6,507 209.1,505.3 209.6,503.5 209.9,501.7 210.2,499.9 210.5,498.1 210.6,496.3 210.6,494.5 210.6,492.7 210.5,490.9 210.3,489 210.1,487.2 209.7,485.5 209.3,483.7 208.8,482 208.2,480.2 207.5,478.5 206.8,476.9 206,475.3 205.1,473.7 204.2,472.1 204.1,472.2 205,473.7 205.9,475.3 206.6,477 207.3,478.6 208,480.3 208.5,482 209,483.8 209.4,485.5 209.7,487.3 209.9,489.1 210.1,490.9 210.2,492.7 210.1,494.5 210.1,496.3 209.9,498.1 209.6,499.9 209.3,501.6 208.9,503.4 208.4,505.1 207.9,506.8 207.2,508.5 206.5,510.1 205.7,511.7 204.9,513.3 204,514.8 203,516.3 201.9,517.8 200.8,519.2 199.6,520.5 198.4,521.8 197.1,523 195.8,524.2 194.4,525.3 192.9,526.3 191.4,527.3 189.9,528.2 188.3,529.1 186.7,529.8 185.1,530.5 183.4,531.2 181.8,531.7 180.1,532.2 178.3,532.6 176.6,532.9 174.8,533.1 173.1,533.3 171.3,533.4 169.5,533.4 167.8,533.3 166,533.2 164.3,532.9 162.5,532.6 160.8,532.2 159.1,531.7 157.5,531.2 155.8,530.6 154.2,529.9 152.6,529.2 151.1,528.3 149.6,527.4 148.1,526.5 146.7,525.5 145.3,524.4 144,523.2 142.7,522 141.5,520.8 140.3,519.5 139.2,518.2 138.2,516.8 137.2,515.4 136.2,513.9 135.4,512.4 134.6,510.8 133.9,509.2ZM128,510.1L128.7,511.8 129.5,513.5 130.3,515.2 131.3,516.8 132.3,518.4 133.3,520 134.4,521.5 135.6,522.9 136.9,524.3 138.2,525.7 139.5,527 141,528.2 142.5,529.3 144,530.4 145.6,531.4 147.2,532.4 148.8,533.3 150.5,534.1 152.2,534.9 153.9,535.5 155.7,536.1 157.5,536.7 159.3,537.1 161.1,537.5 163,537.8 164.8,538 166.7,538.1 168.5,538.2 170.4,538.2 172.3,538.1 174.1,537.9 175.9,537.7 177.8,537.4 179.6,537 181.4,536.5 183.1,536 184.9,535.4 186.6,534.7 188.3,533.9 189.9,533.1 191.6,532.2 193.1,531.2 194.7,530.2 196.1,529.1 197.6,528 199,526.8 200.3,525.5 201.6,524.2 202.8,522.8 204,521.4 205.1,519.9 206.2,518.4 207.1,516.9 208.1,515.3 208.9,513.6 209.7,512 210.4,510.3 211,508.6 211.6,506.8 212.1,505.1 212.5,503.3 212.8,501.5 213.1,499.7 213.3,497.9 213.4,496 213.4,494.2 213.4,492.4 213.3,490.6 213.1,488.8 212.8,486.9 212.5,485.2 212.1,483.4 211.6,481.6 211.1,479.9 210.4,478.2 209.7,476.5 209,474.9 208.1,473.2 207.2,471.7 207.1,471.7 208,473.3 208.8,474.9 209.5,476.6 210.2,478.3 210.8,480 211.3,481.7 211.8,483.5 212.2,485.2 212.5,487 212.7,488.8 212.9,490.6 212.9,492.4 213,494.2 212.9,496 212.7,497.8 212.5,499.6 212.2,501.4 211.8,503.1 211.4,504.9 210.9,506.6 210.3,508.3 209.6,510 208.9,511.6 208.1,513.2 207.2,514.8 206.3,516.4 205.3,517.8 204.3,519.3 203.2,520.7 202,522.1 200.8,523.4 199.5,524.6 198.2,525.8 196.8,527 195.4,528.1 193.9,529.1 192.4,530 190.8,530.9 189.3,531.8 187.6,532.5 186,533.2 184.3,533.8 182.6,534.4 180.9,534.9 179.2,535.3 177.4,535.6 175.7,535.9 173.9,536 172.1,536.2 170.4,536.2 168.6,536.2 166.8,536 165.1,535.9 163.3,535.6 161.6,535.3 159.9,534.9 158.2,534.4 156.5,533.8 154.8,533.2 153.2,532.5 151.6,531.8 150,531 148.5,530.1 147,529.1 145.6,528.1 144.2,527.1 142.8,525.9 141.5,524.8 140.3,523.6 139.1,522.3 137.9,521 136.8,519.6 135.7,518.2 134.7,516.8 133.8,515.3 132.9,513.8 132.1,512.2 131.4,510.6 130.7,509ZM124.9,509.8L125.5,511.5 126.2,513.2 127,514.9 127.9,516.5 128.8,518.2 129.8,519.7 130.8,521.3 131.9,522.8 133.1,524.2 134.3,525.6 135.6,527 136.9,528.3 138.3,529.6 139.7,530.7 141.2,531.9 142.7,532.9 144.3,533.9 145.9,534.9 147.5,535.7 149.1,536.6 150.8,537.3 152.6,538 154.3,538.6 156.1,539.2 157.8,539.6 159.6,540 161.5,540.4 163.3,540.6 165.1,540.8 167,541 168.8,541 170.6,541 172.5,540.9 174.3,540.7 176.1,540.5 177.9,540.2 179.7,539.8 181.5,539.4 183.3,538.9 185,538.3 186.7,537.7 188.4,536.9 190.1,536.2 191.7,535.3 193.3,534.4 194.8,533.5 196.4,532.4 197.8,531.4 199.3,530.2 200.6,529 202,527.8 203.3,526.5 204.5,525.1 205.7,523.8 206.8,522.3 207.9,520.9 208.9,519.3 209.8,517.8 210.7,516.2 211.6,514.6 212.3,512.9 213,511.3 213.6,509.6 214.2,507.8 214.7,506.1 215.1,504.3 215.5,502.5 215.8,500.7 216,499 216.1,497.1 216.2,495.3 216.2,493.5 216.2,491.7 216,489.9 215.8,488.1 215.6,486.3 215.2,484.6 214.8,482.8 214.4,481 213.8,479.3 213.2,477.6 212.5,476 211.8,474.3 211,472.7 210.1,471.1 209.2,469.6 209.1,469.6 210,471.2 210.8,472.8 211.6,474.4 212.3,476 213,477.7 213.6,479.4 214.1,481.1 214.5,482.9 214.9,484.6 215.2,486.4 215.5,488.2 215.6,489.9 215.7,491.7 215.8,493.5 215.7,495.3 215.6,497.1 215.4,498.9 215.2,500.7 214.9,502.4 214.5,504.2 214,505.9 213.5,507.6 212.9,509.3 212.3,510.9 211.5,512.6 210.8,514.2 209.9,515.8 209,517.3 208.1,518.8 207,520.3 206,521.7 204.8,523.1 203.7,524.4 202.4,525.7 201.2,526.9 199.8,528.1 198.5,529.2 197,530.3 195.6,531.3 194.1,532.3 192.6,533.2 191,534 189.4,534.8 187.8,535.5 186.1,536.1 184.5,536.7 182.8,537.2 181.1,537.7 179.4,538.1 177.6,538.4 175.9,538.7 174.1,538.8 172.4,538.9 170.6,539 168.8,539 167.1,538.9 165.3,538.7 163.6,538.5 161.9,538.2 160.1,537.8 158.4,537.4 156.8,536.9 155.1,536.3 153.5,535.7 151.8,535 150.3,534.2 148.7,533.4 147.2,532.6 145.7,531.6 144.3,530.6 142.9,529.6 141.5,528.5 140.2,527.3 138.9,526.2 137.7,524.9 136.5,523.7 135.4,522.3 134.3,521 133.3,519.6 132.3,518.1 131.4,516.6 130.5,515.1 129.7,513.6 129,512 128.3,510.4 127.7,508.8ZM121.8,509.5L122.4,511.2 123.1,512.9 123.8,514.7 124.6,516.3 125.5,518 126.4,519.6 127.4,521.2 128.4,522.7 129.5,524.2 130.7,525.7 131.9,527.1 133.1,528.5 134.4,529.8 135.8,531.1 137.2,532.3 138.7,533.5 140.1,534.6 141.7,535.6 143.3,536.6 144.9,537.5 146.5,538.4 148.2,539.2 149.9,539.9 151.6,540.6 153.3,541.2 155.1,541.8 156.9,542.3 158.7,542.7 160.5,543.1 162.3,543.3 164.2,543.6 166,543.7 167.8,543.8 169.7,543.8 171.5,543.8 173.4,543.6 175.2,543.5 177,543.2 178.8,542.9 180.6,542.5 182.4,542.1 184.2,541.5 185.9,541 187.6,540.3 189.3,539.6 191,538.8 192.6,538 194.2,537.1 195.8,536.2 197.3,535.2 198.8,534.1 200.3,533 201.7,531.8 203.1,530.6 204.4,529.4 205.7,528 206.9,526.7 208.1,525.3 209.2,523.8 210.2,522.4 211.3,520.8 212.2,519.3 213.1,517.7 213.9,516.1 214.7,514.4 215.4,512.8 216.1,511.1 216.7,509.3 217.2,507.6 217.7,505.8 218.1,504.1 218.4,502.3 218.6,500.5 218.8,498.7 219,496.9 219,495 219,493.2 219,491.4 218.8,489.6 218.6,487.8 218.4,486 218,484.2 217.6,482.5 217.2,480.7 216.7,479 216.1,477.3 215.4,475.6 214.7,473.9 213.9,472.3 213.1,470.7 212.2,469.1 211.3,467.6 211.2,467.6 212.1,469.2 212.9,470.8 213.8,472.4 214.5,474 215.2,475.7 215.8,477.4 216.4,479.1 216.9,480.8 217.3,482.5 217.7,484.3 218,486.1 218.2,487.9 218.4,489.6 218.5,491.4 218.6,493.2 218.5,495 218.4,496.8 218.3,498.6 218.1,500.4 217.8,502.2 217.4,503.9 217,505.7 216.5,507.4 215.9,509.1 215.3,510.8 214.7,512.4 213.9,514.1 213.1,515.7 212.3,517.3 211.4,518.8 210.4,520.3 209.4,521.8 208.3,523.2 207.2,524.6 206,525.9 204.8,527.2 203.5,528.5 202.2,529.7 200.9,530.9 199.5,532 198,533 196.6,534 195.1,535 193.5,535.8 191.9,536.7 190.3,537.4 188.7,538.1 187.1,538.8 185.4,539.4 183.7,539.9 182,540.4 180.2,540.8 178.5,541.1 176.7,541.4 175,541.6 173.2,541.7 171.5,541.8 169.7,541.8 167.9,541.7 166.2,541.6 164.4,541.4 162.7,541.2 160.9,540.8 159.2,540.5 157.5,540 155.8,539.5 154.1,538.9 152.5,538.3 150.9,537.6 149.3,536.9 147.7,536.1 146.2,535.2 144.7,534.3 143.2,533.3 141.8,532.3 140.4,531.2 139.1,530.1 137.8,528.9 136.5,527.7 135.3,526.5 134.1,525.2 133,523.8 131.9,522.4 130.9,521 129.9,519.6 129,518.1 128.1,516.6 127.3,515 126.5,513.4 125.8,511.8 125.2,510.2 124.6,508.5ZM118.8,509.2L119.3,510.9 120,512.7 120.7,514.4 121.4,516.1 122.2,517.8 123.1,519.4 124,521.1 125,522.6 126,524.2 127.1,525.7 128.3,527.2 129.5,528.6 130.7,530 132,531.3 133.3,532.6 134.7,533.9 136.1,535.1 137.6,536.2 139.1,537.3 140.7,538.3 142.3,539.3 143.9,540.2 145.5,541 147.2,541.8 148.9,542.6 150.6,543.3 152.4,543.9 154.1,544.4 155.9,544.9 157.7,545.4 159.5,545.7 161.4,546 163.2,546.3 165,546.5 166.9,546.6 168.7,546.6 170.6,546.6 172.4,546.5 174.3,546.4 176.1,546.2 177.9,545.9 179.7,545.6 181.5,545.2 183.3,544.7 185.1,544.2 186.8,543.6 188.5,543 190.2,542.3 191.9,541.5 193.6,540.7 195.2,539.8 196.8,538.9 198.3,537.9 199.8,536.9 201.3,535.8 202.7,534.6 204.1,533.4 205.5,532.2 206.8,530.9 208,529.6 209.3,528.2 210.4,526.8 211.5,525.4 212.6,523.9 213.6,522.4 214.6,520.8 215.5,519.2 216.3,517.6 217.1,515.9 217.8,514.3 218.5,512.6 219.1,510.9 219.7,509.1 220.2,507.4 220.6,505.6 221,503.8 221.3,502 221.5,500.2 221.7,498.4 221.8,496.6 221.8,494.8 221.8,492.9 221.8,491.1 221.6,489.3 221.4,487.5 221.2,485.7 220.8,483.9 220.4,482.1 220,480.4 219.5,478.6 218.9,476.9 218.3,475.2 217.6,473.5 216.8,471.9 216,470.3 215.2,468.7 214.3,467.1 214.2,467.2 215,468.7 215.9,470.3 216.7,472 217.4,473.6 218.1,475.3 218.7,477 219.2,478.7 219.7,480.5 220.1,482.2 220.5,484 220.8,485.8 221,487.6 221.2,489.3 221.3,491.1 221.4,492.9 221.3,494.7 221.3,496.5 221.1,498.3 220.9,500.1 220.6,501.9 220.3,503.7 219.9,505.4 219.5,507.2 219,508.9 218.4,510.6 217.8,512.3 217.1,513.9 216.3,515.6 215.5,517.2 214.7,518.8 213.7,520.3 212.8,521.8 211.8,523.3 210.7,524.7 209.6,526.1 208.4,527.5 207.2,528.8 205.9,530.1 204.6,531.3 203.3,532.5 201.9,533.6 200.5,534.7 199,535.7 197.5,536.7 196,537.6 194.5,538.5 192.9,539.3 191.3,540.1 189.6,540.8 188,541.4 186.3,542 184.6,542.6 182.9,543 181.1,543.4 179.4,543.8 177.6,544.1 175.9,544.3 174.1,544.5 172.3,544.6 170.5,544.6 168.8,544.6 167,544.5 165.2,544.3 163.5,544.1 161.7,543.8 160,543.5 158.3,543.1 156.5,542.7 154.9,542.1 153.2,541.6 151.5,540.9 149.9,540.3 148.3,539.5 146.7,538.7 145.2,537.9 143.7,537 142.2,536 140.7,535 139.3,533.9 138,532.8 136.6,531.7 135.4,530.5 134.1,529.2 132.9,528 131.7,526.7 130.6,525.3 129.5,523.9 128.5,522.5 127.5,521 126.6,519.5 125.7,518 124.9,516.5 124.1,514.9 123.4,513.3 122.8,511.6 122.2,510 121.6,508.3ZM115.8,508.9L116.3,510.7 116.9,512.4 117.5,514.2 118.3,515.9 119,517.6 119.8,519.3 120.7,520.9 121.6,522.5 122.6,524.1 123.6,525.7 124.7,527.2 125.9,528.7 127,530.1 128.3,531.5 129.6,532.9 130.9,534.2 132.2,535.4 133.7,536.7 135.1,537.8 136.6,538.9 138.1,540 139.7,541 141.3,541.9 142.9,542.8 144.6,543.7 146.3,544.5 148,545.2 149.7,545.9 151.4,546.5 153.2,547.1 155,547.6 156.8,548 158.6,548.4 160.4,548.7 162.3,549 164.1,549.2 165.9,549.3 167.8,549.4 169.6,549.4 171.5,549.4 173.3,549.3 175.2,549.1 177,548.9 178.8,548.6 180.6,548.2 182.4,547.8 184.2,547.4 186,546.8 187.7,546.3 189.5,545.6 191.2,544.9 192.8,544.2 194.5,543.4 196.1,542.5 197.7,541.6 199.3,540.6 200.8,539.6 202.3,538.5 203.7,537.4 205.2,536.2 206.5,535 207.9,533.8 209.2,532.5 210.4,531.1 211.6,529.7 212.8,528.3 213.9,526.9 215,525.4 216,523.9 216.9,522.3 217.8,520.7 218.7,519.1 219.5,517.4 220.2,515.8 220.9,514.1 221.6,512.4 222.1,510.6 222.7,508.9 223.1,507.1 223.5,505.3 223.8,503.5 224.1,501.7 224.3,499.9 224.5,498.1 224.6,496.3 224.6,494.5 224.6,492.6 224.5,490.8 224.4,489 224.2,487.2 223.9,485.4 223.6,483.6 223.2,481.8 222.8,480.1 222.3,478.3 221.8,476.6 221.1,474.9 220.5,473.2 219.8,471.5 219,469.9 218.1,468.2 217.3,466.7 216.3,465.1 216.2,465.2 217.1,466.7 218,468.3 218.8,469.9 219.6,471.6 220.3,473.3 220.9,474.9 221.5,476.7 222,478.4 222.5,480.1 222.9,481.9 223.3,483.7 223.6,485.4 223.8,487.2 224,489 224.1,490.8 224.2,492.6 224.2,494.5 224.1,496.3 224,498.1 223.8,499.9 223.5,501.6 223.2,503.4 222.9,505.2 222.4,506.9 222,508.7 221.4,510.4 220.8,512.1 220.2,513.8 219.5,515.4 218.7,517.1 217.9,518.7 217,520.2 216.1,521.8 215.1,523.3 214.1,524.8 213.1,526.2 212,527.6 210.8,529 209.6,530.4 208.3,531.6 207.1,532.9 205.7,534.1 204.4,535.3 202.9,536.4 201.5,537.4 200,538.4 198.5,539.4 197,540.3 195.4,541.2 193.8,542 192.2,542.7 190.5,543.4 188.9,544.1 187.2,544.7 185.5,545.2 183.8,545.7 182,546.1 180.3,546.5 178.5,546.8 176.8,547 175,547.2 173.2,547.3 171.4,547.4 169.6,547.4 167.9,547.3 166.1,547.2 164.3,547 162.6,546.8 160.8,546.5 159.1,546.2 157.3,545.8 155.6,545.3 153.9,544.8 152.2,544.2 150.6,543.6 149,542.9 147.3,542.2 145.8,541.4 144.2,540.5 142.7,539.6 141.2,538.7 139.7,537.7 138.3,536.6 136.9,535.6 135.5,534.4 134.2,533.2 132.9,532 131.7,530.8 130.5,529.5 129.3,528.2 128.2,526.8 127.1,525.4 126.1,524 125.1,522.5 124.2,521 123.3,519.5 122.5,517.9 121.7,516.3 121,514.7 120.3,513.1 119.7,511.4 119.1,509.8 118.6,508.1Z" fill="#000" clip-path="url(#lc2)"/>
<circle cx="169.8" cy="493.8" r="1.4" fill="none" stroke="#000" stroke-width="0.3182291666666667" />
<circle cx="169.8" cy="493.8" r="4.2" fill="none" stroke="#000" stroke-width="0.3546875" />
<circle cx="169.8" cy="493.8" r="7" fill="none" stroke="#000" stroke-width="0.3911458333333333" />
<circle cx="169.8" cy="493.8" r="9.8" fill="none" stroke="#000" stroke-width="0.4276041666666667" />
<circle cx="169.8" cy="493.8" r="12.6" fill="none" stroke="#000" stroke-width="0.4640625" />
<circle cx="169.8" cy="493.8" r="15.4" fill="none" stroke="#000" stroke-width="0.5005208333333333" />
<circle cx="169.8" cy="493.8" r="18.2" fill="none" stroke="#000" stroke-width="0.5369791666666667" />
<text x="104.4" y="591.6" font-family="Liberation Sans" font-size="28.2" text-anchor="start" fill="#111" font-weight="normal" textLength="131.2" lengthAdjust="spacingAndGlyphs" xml:space="preserve" stroke="#111" stroke-width="0.7">ST LUCE</text>
<path d="M382.5,673 V546.3 H474.7 V669.5" fill="none" stroke="#555" stroke-width="1.5" />
<path d="M384.8,621 V574.2 H466.9 V621" fill="none" stroke="#333" stroke-width="1.5" />
<path d="M407.9,620 V607.3 H444.1 V620" fill="none" stroke="#333" stroke-width="1.5" />
<path d="M407.9,620 V641 M444.1,620 V641" fill="none" stroke="#333" stroke-width="1.4" stroke-dasharray="5 2.5"/>
<line x1="385" y1="621.3" x2="467" y2="621.3" stroke="#3a3a3a" stroke-width="3.0" />
<g font-family="Liberation Sans" font-size="19.7" text-anchor="middle" fill="#111" stroke="#111" stroke-width="0.3" ><text transform="translate(414.7,544.9) scale(0.883,1)">1</text><text transform="translate(425.4,544.9) scale(0.883,1)">2</text><text transform="translate(436.2,544.9) scale(0.680,1)">C</text><text transform="translate(446.9,544.9) scale(0.590,1)">M</text></g>
<g font-family="Liberation Sans" font-size="19.7" text-anchor="middle" fill="#111" stroke="#111" stroke-width="0.3" ><text transform="translate(414.7,573) scale(0.883,1)">1</text><text transform="translate(425.4,573) scale(0.883,1)">1</text><text transform="translate(436.2,573) scale(0.680,1)">C</text><text transform="translate(446.9,573) scale(0.590,1)">M</text></g>
<g font-family="Liberation Sans" font-size="19.7" text-anchor="middle" fill="#111" stroke="#111" stroke-width="0.3" ><text transform="translate(414.8,607) scale(0.896,1)">7</text><text transform="translate(425.7,607) scale(0.690,1)">C</text><text transform="translate(436.6,607) scale(0.598,1)">M</text></g>
<path d="M392.5,618.6 l-3.6,-2.4 l-0.6,1.2 l2.4,2.6 l-2.8,1.6 l0.4,1.6 l3,-0.4 v2.6 l-1.4,1.2 l1.4,1 v8.4 h3.2 v-8.4 l1.4,-1 l-1.4,-1.2 v-2.6 l3,0.4 l0.4,-1.6 l-2.8,-1.6 l2.4,-2.6 l-0.6,-1.2 l-3.6,2.4z" fill="#111" stroke="#111" stroke-width="0.9" />
<path d="M458.4,618.6 l-3.6,-2.4 l-0.6,1.2 l2.4,2.6 l-2.8,1.6 l0.4,1.6 l3,-0.4 v2.6 l-1.4,1.2 l1.4,1 v8.4 h3.2 v-8.4 l1.4,-1 l-1.4,-1.2 v-2.6 l3,0.4 l0.4,-1.6 l-2.8,-1.6 l2.4,-2.6 l-0.6,-1.2 l-3.6,2.4z" fill="#111" stroke="#111" stroke-width="0.9" />
<path d="M403.5,642.6 h8.8" fill="none" stroke="#111" stroke-width="1.5" />
<path d="M407.9,643 V666" fill="none" stroke="#111" stroke-width="2.1" />
<ellipse cx="407.9" cy="667" rx="3" ry="1.3" fill="#111" stroke="#111" stroke-width="0.5" />
<path d="M439.7,642.6 h8.8" fill="none" stroke="#111" stroke-width="1.5" />
<path d="M444.1,643 V666" fill="none" stroke="#111" stroke-width="2.1" />
<ellipse cx="444.1" cy="667" rx="3" ry="1.3" fill="#111" stroke="#111" stroke-width="0.5" />
<path d="M294.4,764 V627.3 H196.3 V788 H294.4" fill="none" stroke="#222" stroke-width="1.4" stroke-dasharray="3.7 1.9"/>
<path d="M294.4,764 L371.5,698.5 M294.4,788 L370.5,703.5" fill="none" stroke="#222" stroke-width="1.3" stroke-dasharray="3.7 1.9"/>
<path d="M214.4,638.2 h6.4 v28.6 l-1.2,1 v2.4 h-4 v-2.4 l-1.2,-1z" fill="none" stroke="#333" stroke-width="1.2" />
<path d="M260.1,638.2 h6.4 v28.6 l-1.2,1 v2.4 h-4 v-2.4 l-1.2,-1z" fill="none" stroke="#333" stroke-width="1.2" />
<path d="M238,638.2 h6.4 v28.6 l-1.2,1 v2.4 h-4 v-2.4 l-1.2,-1z" fill="none" stroke="#222" stroke-width="1.3" />
<line x1="238.2" y1="644.5" x2="244.2" y2="640.3" stroke="#222" stroke-width="1.5" />
<line x1="238.2" y1="649.1" x2="244.2" y2="644.9" stroke="#222" stroke-width="1.5" />
<line x1="238.2" y1="653.7" x2="244.2" y2="649.5" stroke="#222" stroke-width="1.5" />
<line x1="238.2" y1="658.3" x2="244.2" y2="654.1" stroke="#222" stroke-width="1.5" />
<line x1="238.2" y1="662.9" x2="244.2" y2="658.7" stroke="#222" stroke-width="1.5" />
<line x1="238.2" y1="667.5" x2="244.2" y2="663.3" stroke="#222" stroke-width="1.5" />
<line x1="228" y1="653" x2="228" y2="668" stroke="#111" stroke-width="2.0" />
<line x1="252.3" y1="653" x2="252.3" y2="668" stroke="#111" stroke-width="2.0" />
<line x1="272.4" y1="653" x2="272.4" y2="668" stroke="#111" stroke-width="2.0" />
<circle cx="241.2" cy="680.3" r="5.8" fill="none" stroke="#222" stroke-width="1.3" />
<line x1="241.2" y1="674.5" x2="241.2" y2="686.1" stroke="#222" stroke-width="1.3" />
<line x1="235.8" y1="681.5" x2="246.6" y2="681.5" stroke="#222" stroke-width="1.4" />
<line x1="237.4" y1="683.7" x2="245" y2="683.7" stroke="#222" stroke-width="1.4" />
<circle cx="241.2" cy="777.2" r="5.8" fill="none" stroke="#222" stroke-width="1.3" />
<line x1="241.2" y1="771.4" x2="241.2" y2="783" stroke="#222" stroke-width="1.3" />
<line x1="235.8" y1="776.2" x2="246.6" y2="776.2" stroke="#222" stroke-width="1.4" />
<path d="M236.8,778.6 q4.4,-5 8.8,0" fill="none" stroke="#222" stroke-width="1.2" />
<rect x="210" y="689.6" width="16.7" height="57.1" fill="none" stroke="#111" stroke-width="1.5" />
<line x1="210" y1="746.7" x2="226.7" y2="746.7" stroke="#111" stroke-width="2.2" />
<circle cx="218.3" cy="702.9" r="7.7" fill="#fff" stroke="#222" stroke-width="1.4" />
<line x1="215.7" y1="695.9" x2="215.7" y2="709.9" stroke="#333" stroke-width="1.2" />
<line x1="220.9" y1="695.9" x2="220.9" y2="709.9" stroke="#333" stroke-width="1.2" />
<circle cx="218.3" cy="731.4" r="7.7" fill="#fff" stroke="#222" stroke-width="1.4" />
<line x1="215.7" y1="724.4" x2="215.7" y2="738.4" stroke="#333" stroke-width="1.2" />
<line x1="220.9" y1="724.4" x2="220.9" y2="738.4" stroke="#333" stroke-width="1.2" />
<rect x="232.1" y="689.6" width="17.7" height="57.1" fill="none" stroke="#111" stroke-width="1.5" />
<line x1="232.1" y1="746.7" x2="249.8" y2="746.7" stroke="#111" stroke-width="2.2" />
<circle cx="241" cy="702.9" r="7.7" fill="#fff" stroke="#222" stroke-width="1.4" />
<line x1="238.4" y1="695.9" x2="238.4" y2="709.9" stroke="#333" stroke-width="1.2" />
<line x1="243.6" y1="695.9" x2="243.6" y2="709.9" stroke="#333" stroke-width="1.2" />
<circle cx="241" cy="731.4" r="7.7" fill="#fff" stroke="#222" stroke-width="1.4" />
<line x1="238.4" y1="724.4" x2="238.4" y2="738.4" stroke="#333" stroke-width="1.2" />
<line x1="243.6" y1="724.4" x2="243.6" y2="738.4" stroke="#333" stroke-width="1.2" />
<rect x="254.2" y="689.6" width="17.7" height="57.1" fill="none" stroke="#111" stroke-width="1.5" />
<line x1="254.2" y1="746.7" x2="271.9" y2="746.7" stroke="#111" stroke-width="2.2" />
<circle cx="263.3" cy="702.9" r="7.7" fill="#fff" stroke="#222" stroke-width="1.4" />
<line x1="260.7" y1="695.9" x2="260.7" y2="709.9" stroke="#333" stroke-width="1.2" />
<line x1="265.9" y1="695.9" x2="265.9" y2="709.9" stroke="#333" stroke-width="1.2" />
<circle cx="263.3" cy="731.4" r="7.7" fill="#fff" stroke="#222" stroke-width="1.4" />
<line x1="260.7" y1="724.4" x2="260.7" y2="738.4" stroke="#333" stroke-width="1.2" />
<line x1="265.9" y1="724.4" x2="265.9" y2="738.4" stroke="#333" stroke-width="1.2" />
<path d="M215.9,746.7 V762.2 L222.8,764.2 V746.7" fill="none" stroke="#333" stroke-width="1.3" />
<path d="M237.6,746.7 V767.4 H244.4 V746.7" fill="none" stroke="#333" stroke-width="1.3" />
<path d="M267.5,746.7 V763.2 L260.6,765.6 V746.7" fill="none" stroke="#333" stroke-width="1.3" />
<path d="M373.7,692.8 l2,-6 h6.4 l1,1.4 l-2,4.8z" fill="#fff" stroke="#111" stroke-width="1.5" />
<path d="M373.3,693.2 h6.6 v7.6 h-6.6z" fill="#444" stroke="#111" stroke-width="1.6" />
<rect x="375.3" y="694.6" width="2" height="5" fill="#bbb" stroke="#fff" stroke-width="0" />
<path d="M380.7,692.8 l2,-6 h6.4 l1,1.4 l-2,4.8z" fill="#fff" stroke="#111" stroke-width="1.5" />
<path d="M380.3,693.2 h6.6 v7.6 h-6.6z" fill="#444" stroke="#111" stroke-width="1.6" />
<rect x="382.3" y="694.6" width="2" height="5" fill="#bbb" stroke="#fff" stroke-width="0" />
<path d="M387.7,692.8 l2,-6 h6.4 l1,1.4 l-2,4.8z" fill="#fff" stroke="#111" stroke-width="1.5" />
<path d="M387.3,693.2 h6.6 v7.6 h-6.6z" fill="#444" stroke="#111" stroke-width="1.6" />
<rect x="389.3" y="694.6" width="2" height="5" fill="#bbb" stroke="#fff" stroke-width="0" />
<path d="M394,692.8 l2.2,-5.6 l2.2,1.6 v7.6 l-2,4.4 h-2.4z" fill="#fff" stroke="#111" stroke-width="1.4" />
<ellipse cx="396.3" cy="696" rx="1.9" ry="2.7" fill="#fff" stroke="#222" stroke-width="0.9" />
<path d="M373.7,700.8 C373.1,702.2 370.2,706.7 369.9,709.1 C369.5,711.5 370.5,713.4 371.6,715.3 C372.7,717.2 374.4,719.3 376.6,720.7 C378.8,722.1 381.4,723.1 384.8,723.6 C388.2,724.1 393.9,724.1 397.3,724 C400.8,723.9 403.4,723.3 405.5,723.2 C407.6,723.1 409,723.5 409.7,723.6" fill="none" stroke="#111" stroke-width="1.9" />
<path d="M380.7,700.8 C380.6,702.2 379.5,706.7 379.9,709.1 C380.3,711.5 381.5,713.7 383.2,715.3 C384.9,716.9 387.1,717.8 389.8,718.7 C392.5,719.6 396.7,720.2 399.3,720.7 C401.9,721.2 403.8,721.5 405.5,722 C407.2,722.5 409,723.3 409.7,723.6" fill="none" stroke="#111" stroke-width="1.9" />
<path d="M388.2,700.8 C388.1,701.8 387.1,705.4 387.7,707.1 C388.2,708.8 389.6,709.8 391.5,711.2 C393.4,712.6 396.6,713.7 399.3,715.3 C402,716.9 405.5,719.3 407.6,720.7 C409.7,722.1 411.1,723.1 411.8,723.6" fill="none" stroke="#111" stroke-width="1.9" />
<path d="M409.7,723.6 C410.1,724 410.4,724.5 411.8,725.7 C413.2,726.9 416.1,728.8 418,730.7 C419.9,732.6 422.1,735.9 422.9,736.9" fill="none" stroke="#111" stroke-width="1.5" />
<path d="M411,722.6 C411.8,722.7 413.9,722.5 415.9,723.2 C417.9,723.9 421,725.5 422.9,726.9 C424.8,728.3 425.8,729.9 427,731.6 C428.2,733.3 429.5,736 430,736.9" fill="none" stroke="#111" stroke-width="1.5" />
<path d="M382.5,751 A46.4,13.4 0 0 1 475.3,751 V766.2 A46.4,12.8 0 0 1 382.5,766.2Z" fill="#fff" stroke="#202020" stroke-width="1.22"/>
<ellipse cx="428.9" cy="766.2" rx="46.4" ry="12.8" fill="#fff" stroke="#202020" stroke-width="1.22" />
<rect x="392.2" y="763.6" width="7.4" height="7.4" fill="#111" stroke="#111" stroke-width="0.5" />
<rect x="457.2" y="763.4" width="7.8" height="7.6" fill="#111" stroke="#111" stroke-width="0.5" />
<g>
<path d="M275,1199L275,1192.9 275,1186.9 275,1180.8 275,1174.8 275,1168.7 275,1162.7 275,1156.6 275,1152.5 275.1,1148.4 275.2,1144.4 275.3,1140.3 275.5,1136.2 275.8,1132.2 276,1128.1 276.4,1124.1 276.7,1120.1 277.1,1116.1 277.5,1112.1 278,1108.1 278.6,1104.2 279.1,1100.3 279.7,1096.4 280.4,1092.6 281.1,1088.7 281.8,1085 282.5,1081.2 283.3,1077.5 284.2,1073.8 285.1,1070.2 286,1066.6 286.9,1063 287.9,1059.5 289,1056 290,1052.6 291.1,1049.2 292.3,1045.9 293.4,1042.6 294.6,1039.4 295.9,1036.2 297.1,1033.1 298.4,1030.1 299.8,1027.1 301.2,1024.2 302.6,1021.3 304,1018.5 305.5,1015.8 306.9,1013.1 308.5,1010.5 310,1008 311.6,1005.5 313.2,1003.2 314.8,1000.8 316.5,998.6 318.2,996.4 319.9,994.3 321.6,992.3 323.4,990.4 325.2,988.5 327,986.7 328.8,985 330.7,983.4 332.6,981.9 334.5,980.4 336.4,979.1 338.3,977.8 340.3,976.6 342.3,975.5 344.3,974.5 346.3,973.6 348.3,972.7 350.4,972 352.5,971.4 354.5,970.8 356.6,970.4 358.7,970 360.8,969.8 362.9,969.6 365,969.6 367.1,969.7 369.1,969.9 371.2,970.2 373.2,970.7 375.2,971.3 377.2,972 379.2,972.8 381.2,973.8 383.1,974.9 385,976.1 386.8,977.4 388.7,978.9 390.5,980.4 392.3,982.1 394,983.8 395.7,985.7 397.4,987.6 399,989.7 400.7,991.9 402.2,994.1 403.8,996.5 405.3,998.9 406.8,1001.4 408.2,1004.1 409.6,1006.8 411,1009.5 412.3,1012.4 413.6,1015.4 414.9,1018.4 416.1,1021.5 417.2,1024.7 418.4,1028 419.4,1031.3 420.5,1034.7 421.5,1038.1 422.4,1041.6 423.4,1045.2 424.2,1048.8 425,1052.5 425.8,1056.2 426.5,1060 427.2,1063.8 427.8,1067.7 428.4,1071.6 429,1075.5 429.4,1079.5 429.9,1083.5 430.2,1087.5 430.6,1091.5 430.9,1095.6 431.1,1099.7 431.3,1103.8 431.4,1107.9 431.5,1112 431.5,1116.1 422.5,1116.1 422.5,1112.1 422.4,1108.1 422.3,1104.1 422.1,1100.1 421.9,1096.2 421.6,1092.2 421.3,1088.3 420.9,1084.4 420.5,1080.5 420,1076.7 419.5,1072.9 418.9,1069.1 418.3,1065.3 417.7,1061.6 417,1058 416.2,1054.4 415.4,1050.8 414.6,1047.4 413.7,1043.9 412.8,1040.5 411.9,1037.2 410.9,1034 409.8,1030.8 408.8,1027.7 407.6,1024.7 406.5,1021.8 405.3,1018.9 404.1,1016.1 402.9,1013.4 401.6,1010.8 400.3,1008.3 398.9,1005.9 397.6,1003.5 396.2,1001.3 394.8,999.2 393.4,997.1 391.9,995.2 390.5,993.4 389,991.7 387.5,990 386,988.5 384.5,987.1 383,985.8 381.5,984.7 380,983.6 378.4,982.6 376.9,981.8 375.4,981 373.9,980.4 372.4,979.8 370.9,979.4 369.4,979 368,978.8 366.5,978.6 365,978.6 363.3,978.6 361.6,978.8 360,979 358.3,979.2 356.6,979.6 354.9,980 353.2,980.6 351.6,981.2 349.9,981.8 348.2,982.6 346.5,983.5 344.8,984.4 343.1,985.4 341.5,986.5 339.8,987.7 338.1,988.9 336.5,990.3 334.9,991.7 333.2,993.2 331.6,994.8 330,996.5 328.4,998.3 326.8,1000.1 325.2,1002 323.7,1004 322.1,1006.1 320.6,1008.3 319.1,1010.5 317.6,1012.8 316.2,1015.2 314.8,1017.6 313.3,1020.1 312,1022.7 310.6,1025.4 309.3,1028.1 308,1030.9 306.7,1033.7 305.4,1036.6 304.2,1039.6 303,1042.6 301.9,1045.7 300.7,1048.9 299.7,1052.1 298.6,1055.3 297.6,1058.6 296.6,1062 295.6,1065.4 294.7,1068.8 293.8,1072.3 292.9,1075.9 292.1,1079.4 291.3,1083 290.6,1086.7 289.9,1090.4 289.2,1094.1 288.6,1097.9 288,1101.6 287.5,1105.4 287,1109.3 286.5,1113.1 286.1,1117 285.7,1120.9 285.3,1124.8 285,1128.8 284.7,1132.7 284.5,1136.7 284.3,1140.7 284.2,1144.6 284.1,1148.6 284,1152.6 284,1156.6 284,1162.7 284,1168.7 284,1174.8 284,1180.8 284,1186.9 284,1192.9 284,1199Z" fill="#fff" stroke="none"/>
<path d="M275,1199L275,1192.9 275,1186.9 275,1180.8 275,1174.8 275,1168.7 275,1162.7 275,1156.6 275,1152.5 275.1,1148.4 275.2,1144.4 275.3,1140.3 275.5,1136.2 275.8,1132.2 276,1128.1 276.4,1124.1 276.7,1120.1 277.1,1116.1 277.5,1112.1 278,1108.1 278.6,1104.2 279.1,1100.3 279.7,1096.4 280.4,1092.6 281.1,1088.7 281.8,1085 282.5,1081.2 283.3,1077.5 284.2,1073.8 285.1,1070.2 286,1066.6 286.9,1063 287.9,1059.5 289,1056 290,1052.6 291.1,1049.2 292.3,1045.9 293.4,1042.6 294.6,1039.4 295.9,1036.2 297.1,1033.1 298.4,1030.1 299.8,1027.1 301.2,1024.2 302.6,1021.3 304,1018.5 305.5,1015.8 306.9,1013.1 308.5,1010.5 310,1008 311.6,1005.5 313.2,1003.2 314.8,1000.8 316.5,998.6 318.2,996.4 319.9,994.3 321.6,992.3 323.4,990.4 325.2,988.5 327,986.7 328.8,985 330.7,983.4 332.6,981.9 334.5,980.4 336.4,979.1 338.3,977.8 340.3,976.6 342.3,975.5 344.3,974.5 346.3,973.6 348.3,972.7 350.4,972 352.5,971.4 354.5,970.8 356.6,970.4 358.7,970 360.8,969.8 362.9,969.6 365,969.6 367.1,969.7 369.1,969.9 371.2,970.2 373.2,970.7 375.2,971.3 377.2,972 379.2,972.8 381.2,973.8 383.1,974.9 385,976.1 386.8,977.4 388.7,978.9 390.5,980.4 392.3,982.1 394,983.8 395.7,985.7 397.4,987.6 399,989.7 400.7,991.9 402.2,994.1 403.8,996.5 405.3,998.9 406.8,1001.4 408.2,1004.1 409.6,1006.8 411,1009.5 412.3,1012.4 413.6,1015.4 414.9,1018.4 416.1,1021.5 417.2,1024.7 418.4,1028 419.4,1031.3 420.5,1034.7 421.5,1038.1 422.4,1041.6 423.4,1045.2 424.2,1048.8 425,1052.5 425.8,1056.2 426.5,1060 427.2,1063.8 427.8,1067.7 428.4,1071.6 429,1075.5 429.4,1079.5 429.9,1083.5 430.2,1087.5 430.6,1091.5 430.9,1095.6 431.1,1099.7 431.3,1103.8 431.4,1107.9 431.5,1112 431.5,1116.1M284,1199L284,1192.9 284,1186.9 284,1180.8 284,1174.8 284,1168.7 284,1162.7 284,1156.6 284,1152.6 284.1,1148.6 284.2,1144.6 284.3,1140.7 284.5,1136.7 284.7,1132.7 285,1128.8 285.3,1124.8 285.7,1120.9 286.1,1117 286.5,1113.1 287,1109.3 287.5,1105.4 288,1101.6 288.6,1097.9 289.2,1094.1 289.9,1090.4 290.6,1086.7 291.3,1083 292.1,1079.4 292.9,1075.9 293.8,1072.3 294.7,1068.8 295.6,1065.4 296.6,1062 297.6,1058.6 298.6,1055.3 299.7,1052.1 300.7,1048.9 301.9,1045.7 303,1042.6 304.2,1039.6 305.4,1036.6 306.7,1033.7 308,1030.9 309.3,1028.1 310.6,1025.4 312,1022.7 313.3,1020.1 314.8,1017.6 316.2,1015.2 317.6,1012.8 319.1,1010.5 320.6,1008.3 322.1,1006.1 323.7,1004 325.2,1002 326.8,1000.1 328.4,998.3 330,996.5 331.6,994.8 333.2,993.2 334.9,991.7 336.5,990.3 338.1,988.9 339.8,987.7 341.5,986.5 343.1,985.4 344.8,984.4 346.5,983.5 348.2,982.6 349.9,981.8 351.6,981.2 353.2,980.6 354.9,980 356.6,979.6 358.3,979.2 360,979 361.6,978.8 363.3,978.6 365,978.6 366.5,978.6 368,978.8 369.4,979 370.9,979.4 372.4,979.8 373.9,980.4 375.4,981 376.9,981.8 378.4,982.6 380,983.6 381.5,984.7 383,985.8 384.5,987.1 386,988.5 387.5,990 389,991.7 390.5,993.4 391.9,995.2 393.4,997.1 394.8,999.2 396.2,1001.3 397.6,1003.5 398.9,1005.9 400.3,1008.3 401.6,1010.8 402.9,1013.4 404.1,1016.1 405.3,1018.9 406.5,1021.8 407.6,1024.7 408.8,1027.7 409.8,1030.8 410.9,1034 411.9,1037.2 412.8,1040.5 413.7,1043.9 414.6,1047.4 415.4,1050.8 416.2,1054.4 417,1058 417.7,1061.6 418.3,1065.3 418.9,1069.1 419.5,1072.9 420,1076.7 420.5,1080.5 420.9,1084.4 421.3,1088.3 421.6,1092.2 421.9,1096.2 422.1,1100.1 422.3,1104.1 422.4,1108.1 422.5,1112.1 422.5,1116.1" fill="none" stroke="#202020" stroke-width="1.22"/>
<path d="M315.6,1133L315.6,1126.9 315.6,1120.8 315.6,1114.7 315.6,1108.6 315.6,1102.5 315.6,1096.4 315.6,1090.3 315.6,1084.2 315.6,1078.2 315.6,1072.1 315.6,1066 315.6,1059.9 315.6,1053.8 315.6,1047.7 315.6,1041.6 315.6,1035.5 315.6,1029.4 315.6,1023.3 315.6,1017.2 315.6,1011.1 315.6,1005 315.6,998.9 315.6,992.8 315.6,986.7 315.6,980.6 315.6,974.5 315.6,968.5 315.6,962.4 315.6,956.3 315.6,950.2 315.6,944.1 315.6,938 315.6,931.9 315.6,925.8 315.6,919.7 315.6,913.5 315.8,909 316.4,904.5 317.5,900 319,895.6 320.8,891.4 323,887.4 325.6,883.6 328.6,880.1 331.8,876.9 335.3,873.9 339.1,871.3 343.1,869.1 347.3,867.3 351.7,865.8 356.2,864.7 360.7,864.1 365.3,863.9 369.3,864.1 373.2,864.8 377.1,865.9 380.9,867.4 384.5,869.2 387.9,871.5 391.1,874.1 394.1,877.1 396.9,880.3 399.3,883.9 401.5,887.6 403.4,891.6 404.9,895.7 406.1,900 407,904.4 407.5,908.9 407.7,913.3 407.7,919.4 407.7,925.4 407.7,931.5 407.7,937.5 407.7,943.5 407.7,949.5 407.7,955.5 407.7,961.5 407.7,967.6 407.7,973.6 407.7,979.6 407.7,985.6 407.7,991.6 407.7,997.7 407.7,1003.7 407.7,1009.7 407.7,1015.7 407.7,1021.7 407.7,1027.8 407.7,1033.8 407.7,1039.8 407.7,1045.8 407.7,1051.8 407.7,1057.8 407.7,1063.9 407.7,1069.9 407.7,1075.9 407.7,1081.9 407.7,1087.9 407.7,1094 407.7,1100 407.7,1106 398.7,1106 398.7,1100 398.7,1094 398.7,1087.9 398.7,1081.9 398.7,1075.9 398.7,1069.9 398.7,1063.9 398.7,1057.8 398.7,1051.8 398.7,1045.8 398.7,1039.8 398.7,1033.8 398.7,1027.8 398.7,1021.7 398.7,1015.7 398.7,1009.7 398.7,1003.7 398.7,997.7 398.7,991.6 398.7,985.6 398.7,979.6 398.7,973.6 398.7,967.6 398.7,961.5 398.7,955.5 398.7,949.5 398.7,943.5 398.7,937.5 398.7,931.5 398.7,925.4 398.7,919.4 398.7,913.5 398.6,909.6 398.1,905.8 397.4,902.1 396.4,898.5 395.1,895.1 393.5,891.8 391.7,888.7 389.7,885.8 387.5,883.2 385.1,880.8 382.6,878.8 379.9,877 377.1,875.5 374.2,874.4 371.3,873.6 368.3,873.1 365.3,872.9 361.5,873.1 357.8,873.6 354.2,874.5 350.6,875.6 347.2,877.2 343.9,879 340.8,881.1 337.9,883.5 335.2,886.2 332.8,889.1 330.7,892.2 328.9,895.5 327.3,898.9 326.2,902.5 325.3,906.1 324.8,909.8 324.6,913.7 324.6,919.7 324.6,925.8 324.6,931.9 324.6,938 324.6,944.1 324.6,950.2 324.6,956.3 324.6,962.4 324.6,968.5 324.6,974.5 324.6,980.6 324.6,986.7 324.6,992.8 324.6,998.9 324.6,1005 324.6,1011.1 324.6,1017.2 324.6,1023.3 324.6,1029.4 324.6,1035.5 324.6,1041.6 324.6,1047.7 324.6,1053.8 324.6,1059.9 324.6,1066 324.6,1072.1 324.6,1078.2 324.6,1084.2 324.6,1090.3 324.6,1096.4 324.6,1102.5 324.6,1108.6 324.6,1114.7 324.6,1120.8 324.6,1126.9 324.6,1133Z" fill="#fff" stroke="none"/>
<path d="M315.6,1133L315.6,1126.9 315.6,1120.8 315.6,1114.7 315.6,1108.6 315.6,1102.5 315.6,1096.4 315.6,1090.3 315.6,1084.2 315.6,1078.2 315.6,1072.1 315.6,1066 315.6,1059.9 315.6,1053.8 315.6,1047.7 315.6,1041.6 315.6,1035.5 315.6,1029.4 315.6,1023.3 315.6,1017.2 315.6,1011.1 315.6,1005 315.6,998.9 315.6,992.8 315.6,986.7 315.6,980.6 315.6,974.5 315.6,968.5 315.6,962.4 315.6,956.3 315.6,950.2 315.6,944.1 315.6,938 315.6,931.9 315.6,925.8 315.6,919.7 315.6,913.5 315.8,909 316.4,904.5 317.5,900 319,895.6 320.8,891.4 323,887.4 325.6,883.6 328.6,880.1 331.8,876.9 335.3,873.9 339.1,871.3 343.1,869.1 347.3,867.3 351.7,865.8 356.2,864.7 360.7,864.1 365.3,863.9 369.3,864.1 373.2,864.8 377.1,865.9 380.9,867.4 384.5,869.2 387.9,871.5 391.1,874.1 394.1,877.1 396.9,880.3 399.3,883.9 401.5,887.6 403.4,891.6 404.9,895.7 406.1,900 407,904.4 407.5,908.9 407.7,913.3 407.7,919.4 407.7,925.4 407.7,931.5 407.7,937.5 407.7,943.5 407.7,949.5 407.7,955.5 407.7,961.5 407.7,967.6 407.7,973.6 407.7,979.6 407.7,985.6 407.7,991.6 407.7,997.7 407.7,1003.7 407.7,1009.7 407.7,1015.7 407.7,1021.7 407.7,1027.8 407.7,1033.8 407.7,1039.8 407.7,1045.8 407.7,1051.8 407.7,1057.8 407.7,1063.9 407.7,1069.9 407.7,1075.9 407.7,1081.9 407.7,1087.9 407.7,1094 407.7,1100 407.7,1106M324.6,1133L324.6,1126.9 324.6,1120.8 324.6,1114.7 324.6,1108.6 324.6,1102.5 324.6,1096.4 324.6,1090.3 324.6,1084.2 324.6,1078.2 324.6,1072.1 324.6,1066 324.6,1059.9 324.6,1053.8 324.6,1047.7 324.6,1041.6 324.6,1035.5 324.6,1029.4 324.6,1023.3 324.6,1017.2 324.6,1011.1 324.6,1005 324.6,998.9 324.6,992.8 324.6,986.7 324.6,980.6 324.6,974.5 324.6,968.5 324.6,962.4 324.6,956.3 324.6,950.2 324.6,944.1 324.6,938 324.6,931.9 324.6,925.8 324.6,919.7 324.6,913.7 324.8,909.8 325.3,906.1 326.2,902.5 327.3,898.9 328.9,895.5 330.7,892.2 332.8,889.1 335.2,886.2 337.9,883.5 340.8,881.1 343.9,879 347.2,877.2 350.6,875.6 354.2,874.5 357.8,873.6 361.5,873.1 365.3,872.9 368.3,873.1 371.3,873.6 374.2,874.4 377.1,875.5 379.9,877 382.6,878.8 385.1,880.8 387.5,883.2 389.7,885.8 391.7,888.7 393.5,891.8 395.1,895.1 396.4,898.5 397.4,902.1 398.1,905.8 398.6,909.6 398.7,913.5 398.7,919.4 398.7,925.4 398.7,931.5 398.7,937.5 398.7,943.5 398.7,949.5 398.7,955.5 398.7,961.5 398.7,967.6 398.7,973.6 398.7,979.6 398.7,985.6 398.7,991.6 398.7,997.7 398.7,1003.7 398.7,1009.7 398.7,1015.7 398.7,1021.7 398.7,1027.8 398.7,1033.8 398.7,1039.8 398.7,1045.8 398.7,1051.8 398.7,1057.8 398.7,1063.9 398.7,1069.9 398.7,1075.9 398.7,1081.9 398.7,1087.9 398.7,1094 398.7,1100 398.7,1106" fill="none" stroke="#202020" stroke-width="1.22"/>
<path d="M133.4,1086L133.4,1078.7 133.4,1071.3 133.4,1064 133.4,1056.7 133.5,1052.5 133.6,1048.3 133.9,1044.2 134.2,1040 134.7,1035.9 135.2,1031.7 135.9,1027.6 136.6,1023.5 137.5,1019.5 138.4,1015.5 139.5,1011.5 140.6,1007.5 141.9,1003.6 143.2,999.7 144.6,995.9 146.2,992.1 147.8,988.4 149.5,984.7 151.3,981.1 153.2,977.6 155.1,974.1 157.2,970.7 159.3,967.4 161.5,964.1 163.8,960.9 166.2,957.8 168.6,954.8 171.1,951.9 173.7,949 176.4,946.3 179.1,943.6 181.9,941 184.8,938.6 187.7,936.2 190.7,933.9 193.7,931.8 196.8,929.7 199.9,927.7 203.1,925.9 206.3,924.2 209.6,922.5 212.9,921 216.2,919.6 219.6,918.3 223,917.2 226.5,916.1 229.9,915.2 233.4,914.4 236.9,913.7 240.4,913.2 244,912.8 247.5,912.4 251,912.3 254.6,912.2 258,912.2 261.5,912.4 264.9,912.6 268.4,912.9 271.8,913.3 275.2,913.8 278.6,914.3 282,915 285.4,915.7 288.8,916.6 292.1,917.5 295.5,918.5 298.8,919.5 302.1,920.7 305.4,922 308.6,923.3 311.9,924.7 315.1,926.2 318.3,927.8 321.4,929.4 324.5,931.2 327.6,933 330.7,934.9 333.7,936.8 336.7,938.9 339.6,941 342.5,943.2 345.4,945.4 348.2,947.8 351,950.2 353.8,952.7 356.5,955.2 359.1,957.8 361.7,960.5 364.3,963.2 366.8,966 369.3,968.9 371.7,971.8 374.1,974.8 376.4,977.9 378.6,981 380.8,984.1 383,987.4 385.1,990.6 387.1,993.9 389.1,997.3 391,1000.7 392.8,1004.2 394.6,1007.7 396.4,1011.3 398,1014.9 399.6,1018.5 401.2,1022.2 402.7,1025.9 404.1,1029.7 405.4,1033.4 406.7,1037.3 407.9,1041.1 409.1,1045 410.2,1048.9 411.2,1052.8 412.1,1056.8 413,1060.8 413.8,1064.8 414.6,1068.8 415.2,1072.8 415.8,1076.9 416.4,1081 416.8,1085 417.2,1089.1 417.5,1093.2 417.8,1097.3 418,1101.5 418.1,1105.6 418.1,1109.7 409.1,1109.7 409.1,1105.7 409,1101.8 408.8,1097.8 408.6,1093.9 408.2,1089.9 407.9,1086 407.4,1082 406.9,1078.1 406.3,1074.2 405.7,1070.3 405,1066.5 404.2,1062.6 403.4,1058.8 402.4,1055 401.5,1051.2 400.4,1047.5 399.3,1043.7 398.2,1040 396.9,1036.4 395.6,1032.7 394.3,1029.2 392.9,1025.6 391.4,1022.1 389.8,1018.6 388.2,1015.1 386.6,1011.7 384.9,1008.4 383.1,1005.1 381.3,1001.8 379.4,998.6 377.4,995.4 375.4,992.3 373.4,989.2 371.3,986.2 369.1,983.2 366.9,980.3 364.7,977.5 362.4,974.7 360.1,972 357.7,969.3 355.2,966.7 352.8,964.2 350.2,961.7 347.7,959.3 345.1,956.9 342.4,954.7 339.8,952.4 337.1,950.3 334.3,948.2 331.5,946.2 328.7,944.3 325.9,942.5 323,940.7 320.1,939 317.1,937.3 314.2,935.8 311.2,934.3 308.2,932.9 305.1,931.6 302.1,930.3 299,929.2 295.9,928.1 292.8,927.1 289.7,926.1 286.5,925.3 283.4,924.5 280.2,923.8 277,923.2 273.8,922.7 270.7,922.2 267.4,921.9 264.2,921.6 261,921.4 257.8,921.2 254.6,921.2 251.4,921.3 248.1,921.4 244.9,921.7 241.7,922.1 238.5,922.6 235.3,923.2 232.1,924 228.9,924.8 225.8,925.8 222.7,926.8 219.6,928 216.5,929.3 213.4,930.7 210.4,932.1 207.5,933.7 204.5,935.4 201.7,937.3 198.8,939.2 196,941.2 193.3,943.3 190.6,945.5 187.9,947.8 185.3,950.1 182.8,952.6 180.3,955.2 177.9,957.8 175.5,960.6 173.3,963.4 171,966.3 168.9,969.3 166.8,972.3 164.8,975.5 162.9,978.7 161,981.9 159.3,985.3 157.6,988.7 156,992.1 154.5,995.6 153,999.2 151.7,1002.8 150.4,1006.4 149.2,1010.1 148.2,1013.9 147.2,1017.6 146.3,1021.4 145.5,1025.3 144.7,1029.2 144.1,1033 143.6,1037 143.2,1040.9 142.8,1044.8 142.6,1048.8 142.4,1052.7 142.4,1056.7 142.4,1064 142.4,1071.3 142.4,1078.7 142.4,1086Z" fill="#fff" stroke="none"/>
<path d="M133.4,1086L133.4,1078.7 133.4,1071.3 133.4,1064 133.4,1056.7 133.5,1052.5 133.6,1048.3 133.9,1044.2 134.2,1040 134.7,1035.9 135.2,1031.7 135.9,1027.6 136.6,1023.5 137.5,1019.5 138.4,1015.5 139.5,1011.5 140.6,1007.5 141.9,1003.6 143.2,999.7 144.6,995.9 146.2,992.1 147.8,988.4 149.5,984.7 151.3,981.1 153.2,977.6 155.1,974.1 157.2,970.7 159.3,967.4 161.5,964.1 163.8,960.9 166.2,957.8 168.6,954.8 171.1,951.9 173.7,949 176.4,946.3 179.1,943.6 181.9,941 184.8,938.6 187.7,936.2 190.7,933.9 193.7,931.8 196.8,929.7 199.9,927.7 203.1,925.9 206.3,924.2 209.6,922.5 212.9,921 216.2,919.6 219.6,918.3 223,917.2 226.5,916.1 229.9,915.2 233.4,914.4 236.9,913.7 240.4,913.2 244,912.8 247.5,912.4 251,912.3 254.6,912.2 258,912.2 261.5,912.4 264.9,912.6 268.4,912.9 271.8,913.3 275.2,913.8 278.6,914.3 282,915 285.4,915.7 288.8,916.6 292.1,917.5 295.5,918.5 298.8,919.5 302.1,920.7 305.4,922 308.6,923.3 311.9,924.7 315.1,926.2 318.3,927.8 321.4,929.4 324.5,931.2 327.6,933 330.7,934.9 333.7,936.8 336.7,938.9 339.6,941 342.5,943.2 345.4,945.4 348.2,947.8 351,950.2 353.8,952.7 356.5,955.2 359.1,957.8 361.7,960.5 364.3,963.2 366.8,966 369.3,968.9 371.7,971.8 374.1,974.8 376.4,977.9 378.6,981 380.8,984.1 383,987.4 385.1,990.6 387.1,993.9 389.1,997.3 391,1000.7 392.8,1004.2 394.6,1007.7 396.4,1011.3 398,1014.9 399.6,1018.5 401.2,1022.2 402.7,1025.9 404.1,1029.7 405.4,1033.4 406.7,1037.3 407.9,1041.1 409.1,1045 410.2,1048.9 411.2,1052.8 412.1,1056.8 413,1060.8 413.8,1064.8 414.6,1068.8 415.2,1072.8 415.8,1076.9 416.4,1081 416.8,1085 417.2,1089.1 417.5,1093.2 417.8,1097.3 418,1101.5 418.1,1105.6 418.1,1109.7M142.4,1086L142.4,1078.7 142.4,1071.3 142.4,1064 142.4,1056.7 142.4,1052.7 142.6,1048.8 142.8,1044.8 143.2,1040.9 143.6,1037 144.1,1033 144.7,1029.2 145.5,1025.3 146.3,1021.4 147.2,1017.6 148.2,1013.9 149.2,1010.1 150.4,1006.4 151.7,1002.8 153,999.2 154.5,995.6 156,992.1 157.6,988.7 159.3,985.3 161,981.9 162.9,978.7 164.8,975.5 166.8,972.3 168.9,969.3 171,966.3 173.3,963.4 175.5,960.6 177.9,957.8 180.3,955.2 182.8,952.6 185.3,950.1 187.9,947.8 190.6,945.5 193.3,943.3 196,941.2 198.8,939.2 201.7,937.3 204.5,935.4 207.5,933.7 210.4,932.1 213.4,930.7 216.5,929.3 219.6,928 222.7,926.8 225.8,925.8 228.9,924.8 232.1,924 235.3,923.2 238.5,922.6 241.7,922.1 244.9,921.7 248.1,921.4 251.4,921.3 254.6,921.2 257.8,921.2 261,921.4 264.2,921.6 267.4,921.9 270.7,922.2 273.8,922.7 277,923.2 280.2,923.8 283.4,924.5 286.5,925.3 289.7,926.1 292.8,927.1 295.9,928.1 299,929.2 302.1,930.3 305.1,931.6 308.2,932.9 311.2,934.3 314.2,935.8 317.1,937.3 320.1,939 323,940.7 325.9,942.5 328.7,944.3 331.5,946.2 334.3,948.2 337.1,950.3 339.8,952.4 342.4,954.7 345.1,956.9 347.7,959.3 350.2,961.7 352.8,964.2 355.2,966.7 357.7,969.3 360.1,972 362.4,974.7 364.7,977.5 366.9,980.3 369.1,983.2 371.3,986.2 373.4,989.2 375.4,992.3 377.4,995.4 379.4,998.6 381.3,1001.8 383.1,1005.1 384.9,1008.4 386.6,1011.7 388.2,1015.1 389.8,1018.6 391.4,1022.1 392.9,1025.6 394.3,1029.2 395.6,1032.7 396.9,1036.4 398.2,1040 399.3,1043.7 400.4,1047.5 401.5,1051.2 402.4,1055 403.4,1058.8 404.2,1062.6 405,1066.5 405.7,1070.3 406.3,1074.2 406.9,1078.1 407.4,1082 407.9,1086 408.2,1089.9 408.6,1093.9 408.8,1097.8 409,1101.8 409.1,1105.7 409.1,1109.7" fill="none" stroke="#202020" stroke-width="1.22"/>
<path d="M459,1152 V890 L461,890.8 C464.5,898 467.6,915 468.2,940 V1152Z" fill="#fff" stroke="none"/>
<path d="M461,890.8 C464.5,898 467.8,915 468.2,940 V1152" fill="none" stroke="#202020" stroke-width="1.22" />
<path d="M716.3,1163L716.3,1156.3 716.3,1149.6 716.3,1143 716.3,1136.3 716.3,1129.6 716.3,1122.9 716.3,1119 716.1,1115.1 715.9,1111.1 715.5,1107.2 715.1,1103.3 714.6,1099.4 714,1095.6 713.3,1091.7 712.5,1087.9 711.6,1084 710.6,1080.2 709.5,1076.5 708.4,1072.7 707.1,1069 705.8,1065.3 704.4,1061.6 702.8,1058 701.2,1054.4 699.5,1050.9 697.8,1047.4 695.9,1043.9 694,1040.5 691.9,1037.2 689.8,1033.9 687.7,1030.6 685.4,1027.4 683.1,1024.2 680.7,1021.1 678.2,1018.1 675.6,1015.1 673,1012.2 670.3,1009.4 667.5,1006.6 664.7,1003.9 661.8,1001.2 658.8,998.6 655.8,996.1 652.7,993.7 649.6,991.3 646.4,989 643.1,986.8 639.8,984.7 636.5,982.7 633.1,980.7 629.7,978.8 626.2,977 622.6,975.3 619.1,973.7 615.5,972.1 611.8,970.7 608.1,969.3 604.4,968.1 600.7,966.9 596.9,965.8 593.1,964.8 589.3,963.8 585.5,963 581.6,962.3 577.7,961.7 574.1,961.1 571,961.2 567.5,961.4 564.1,961.6 560.6,962 557.2,962.5 553.8,963.1 550.4,963.7 547,964.5 543.6,965.4 540.3,966.4 536.9,967.5 533.7,968.7 530.4,970 527.2,971.4 524,972.9 520.8,974.5 517.7,976.2 514.6,978 511.6,979.9 508.6,981.9 505.7,984 502.8,986.1 500,988.4 497.2,990.7 494.5,993.1 491.8,995.7 489.3,998.2 486.7,1000.9 484.3,1003.7 481.9,1006.5 479.6,1009.4 477.3,1012.3 475.1,1015.4 473,1018.5 471,1021.6 469,1024.8 467.2,1028.1 465.4,1031.5 463.7,1034.9 462.1,1038.3 460.5,1041.8 459.1,1045.3 457.7,1048.9 456.5,1052.6 455.3,1056.2 454.2,1059.9 453.2,1063.7 452.3,1067.4 451.5,1071.2 450.8,1075 450.1,1078.9 449.6,1082.7 449.2,1086.6 448.9,1090.5 448.6,1094.4 448.5,1098.3 448.4,1102.2 448.4,1113 439.4,1113 439.4,1102.1 439.5,1098 439.6,1093.9 439.9,1089.8 440.2,1085.7 440.7,1081.6 441.2,1077.5 441.9,1073.5 442.7,1069.4 443.5,1065.4 444.5,1061.5 445.5,1057.5 446.7,1053.6 447.9,1049.7 449.3,1045.9 450.7,1042.1 452.3,1038.3 453.9,1034.6 455.6,1030.9 457.4,1027.3 459.3,1023.8 461.3,1020.3 463.4,1016.9 465.5,1013.5 467.7,1010.2 470.1,1007 472.5,1003.8 474.9,1000.7 477.5,997.7 480.1,994.8 482.8,992 485.6,989.2 488.4,986.5 491.3,983.9 494.3,981.4 497.3,979 500.4,976.7 503.5,974.5 506.7,972.4 510,970.3 513.3,968.4 516.6,966.6 520,964.9 523.5,963.2 526.9,961.7 530.4,960.3 534,959 537.6,957.8 541.2,956.8 544.8,955.8 548.4,955 552.1,954.2 555.8,953.6 559.5,953.1 563.2,952.7 567,952.4 570.7,952.2 574.7,952.2 579.1,952.8 583.2,953.4 587.2,954.2 591.3,955.1 595.3,956 599.3,957.1 603.3,958.3 607.2,959.5 611.2,960.9 615,962.3 618.9,963.8 622.7,965.5 626.5,967.2 630.2,969 633.9,970.9 637.5,972.9 641.1,974.9 644.6,977.1 648.1,979.3 651.5,981.7 654.9,984.1 658.2,986.6 661.5,989.1 664.7,991.8 667.8,994.5 670.8,997.3 673.8,1000.1 676.7,1003.1 679.6,1006.1 682.4,1009.2 685.1,1012.3 687.7,1015.5 690.2,1018.8 692.7,1022.1 695.1,1025.5 697.4,1028.9 699.6,1032.4 701.7,1036 703.8,1039.6 705.7,1043.2 707.6,1046.9 709.4,1050.7 711.1,1054.4 712.7,1058.3 714.2,1062.1 715.6,1066 716.9,1069.9 718.2,1073.9 719.3,1077.9 720.3,1081.9 721.3,1085.9 722.1,1090 722.9,1094 723.5,1098.1 724.1,1102.2 724.5,1106.4 724.9,1110.5 725.1,1114.6 725.3,1118.8 725.3,1122.9 725.3,1129.6 725.3,1136.3 725.3,1143 725.3,1149.6 725.3,1156.3 725.3,1163Z" fill="#fff" stroke="none"/>
<path d="M716.3,1163L716.3,1156.3 716.3,1149.6 716.3,1143 716.3,1136.3 716.3,1129.6 716.3,1122.9 716.3,1119 716.1,1115.1 715.9,1111.1 715.5,1107.2 715.1,1103.3 714.6,1099.4 714,1095.6 713.3,1091.7 712.5,1087.9 711.6,1084 710.6,1080.2 709.5,1076.5 708.4,1072.7 707.1,1069 705.8,1065.3 704.4,1061.6 702.8,1058 701.2,1054.4 699.5,1050.9 697.8,1047.4 695.9,1043.9 694,1040.5 691.9,1037.2 689.8,1033.9 687.7,1030.6 685.4,1027.4 683.1,1024.2 680.7,1021.1 678.2,1018.1 675.6,1015.1 673,1012.2 670.3,1009.4 667.5,1006.6 664.7,1003.9 661.8,1001.2 658.8,998.6 655.8,996.1 652.7,993.7 649.6,991.3 646.4,989 643.1,986.8 639.8,984.7 636.5,982.7 633.1,980.7 629.7,978.8 626.2,977 622.6,975.3 619.1,973.7 615.5,972.1 611.8,970.7 608.1,969.3 604.4,968.1 600.7,966.9 596.9,965.8 593.1,964.8 589.3,963.8 585.5,963 581.6,962.3 577.7,961.7 574.1,961.1 571,961.2 567.5,961.4 564.1,961.6 560.6,962 557.2,962.5 553.8,963.1 550.4,963.7 547,964.5 543.6,965.4 540.3,966.4 536.9,967.5 533.7,968.7 530.4,970 527.2,971.4 524,972.9 520.8,974.5 517.7,976.2 514.6,978 511.6,979.9 508.6,981.9 505.7,984 502.8,986.1 500,988.4 497.2,990.7 494.5,993.1 491.8,995.7 489.3,998.2 486.7,1000.9 484.3,1003.7 481.9,1006.5 479.6,1009.4 477.3,1012.3 475.1,1015.4 473,1018.5 471,1021.6 469,1024.8 467.2,1028.1 465.4,1031.5 463.7,1034.9 462.1,1038.3 460.5,1041.8 459.1,1045.3 457.7,1048.9 456.5,1052.6 455.3,1056.2 454.2,1059.9 453.2,1063.7 452.3,1067.4 451.5,1071.2 450.8,1075 450.1,1078.9 449.6,1082.7 449.2,1086.6 448.9,1090.5 448.6,1094.4 448.5,1098.3 448.4,1102.2 448.4,1113M725.3,1163L725.3,1156.3 725.3,1149.6 725.3,1143 725.3,1136.3 725.3,1129.6 725.3,1122.9 725.3,1118.8 725.1,1114.6 724.9,1110.5 724.5,1106.4 724.1,1102.2 723.5,1098.1 722.9,1094 722.1,1090 721.3,1085.9 720.3,1081.9 719.3,1077.9 718.2,1073.9 716.9,1069.9 715.6,1066 714.2,1062.1 712.7,1058.3 711.1,1054.4 709.4,1050.7 707.6,1046.9 705.7,1043.2 703.8,1039.6 701.7,1036 699.6,1032.4 697.4,1028.9 695.1,1025.5 692.7,1022.1 690.2,1018.8 687.7,1015.5 685.1,1012.3 682.4,1009.2 679.6,1006.1 676.7,1003.1 673.8,1000.1 670.8,997.3 667.8,994.5 664.7,991.8 661.5,989.1 658.2,986.6 654.9,984.1 651.5,981.7 648.1,979.3 644.6,977.1 641.1,974.9 637.5,972.9 633.9,970.9 630.2,969 626.5,967.2 622.7,965.5 618.9,963.8 615,962.3 611.2,960.9 607.2,959.5 603.3,958.3 599.3,957.1 595.3,956 591.3,955.1 587.2,954.2 583.2,953.4 579.1,952.8 574.7,952.2 570.7,952.2 567,952.4 563.2,952.7 559.5,953.1 555.8,953.6 552.1,954.2 548.4,955 544.8,955.8 541.2,956.8 537.6,957.8 534,959 530.4,960.3 526.9,961.7 523.5,963.2 520,964.9 516.6,966.6 513.3,968.4 510,970.3 506.7,972.4 503.5,974.5 500.4,976.7 497.3,979 494.3,981.4 491.3,983.9 488.4,986.5 485.6,989.2 482.8,992 480.1,994.8 477.5,997.7 474.9,1000.7 472.5,1003.8 470.1,1007 467.7,1010.2 465.5,1013.5 463.4,1016.9 461.3,1020.3 459.3,1023.8 457.4,1027.3 455.6,1030.9 453.9,1034.6 452.3,1038.3 450.7,1042.1 449.3,1045.9 447.9,1049.7 446.7,1053.6 445.5,1057.5 444.5,1061.5 443.5,1065.4 442.7,1069.4 441.9,1073.5 441.2,1077.5 440.7,1081.6 440.2,1085.7 439.9,1089.8 439.6,1093.9 439.5,1098 439.4,1102.1 439.4,1113" fill="none" stroke="#202020" stroke-width="1.22"/>
<path d="M433,1113L433,1106.9 433,1100.9 433,1094.8 433,1088.8 433,1082.7 433,1076.7 433,1070.6 433,1064.6 433,1058.5 433,1052.5 433,1046.4 433,1040.4 433,1034.3 433,1028.2 433,1022.2 433,1016.1 433,1010.1 433,1004 433,998 433,991.9 433,985.9 433,979.8 433,973.8 433,967.7 433,961.6 433,955.6 433,949.5 433,943.5 433,937.4 433,931.4 433,925.3 433,919.3 433,913.2 433,907.2 433,901.1 433,895.1 433,888.7 434.1,883.3 437.4,878.5 442.3,875.5 448.1,874.9 453.5,876.8 457.7,880.8 459.7,885.3 451.5,888.7 450.4,885.7 448.9,884.3 447.1,883.6 445.2,883.8 443.5,884.9 442.3,886.7 441.8,889.3 441.8,895.1 441.8,901.1 441.8,907.2 441.8,913.2 441.8,919.3 441.8,925.3 441.8,931.4 441.8,937.4 441.8,943.5 441.8,949.5 441.8,955.6 441.8,961.6 441.8,967.7 441.8,973.8 441.8,979.8 441.8,985.9 441.8,991.9 441.8,998 441.8,1004 441.8,1010.1 441.8,1016.1 441.8,1022.2 441.8,1028.2 441.8,1034.3 441.8,1040.4 441.8,1046.4 441.8,1052.5 441.8,1058.5 441.8,1064.6 441.8,1070.6 441.8,1076.7 441.8,1082.7 441.8,1088.8 441.8,1094.8 441.8,1100.9 441.8,1106.9 441.8,1113Z" fill="#fff" stroke="none"/>
<path d="M433,1113L433,1106.9 433,1100.9 433,1094.8 433,1088.8 433,1082.7 433,1076.7 433,1070.6 433,1064.6 433,1058.5 433,1052.5 433,1046.4 433,1040.4 433,1034.3 433,1028.2 433,1022.2 433,1016.1 433,1010.1 433,1004 433,998 433,991.9 433,985.9 433,979.8 433,973.8 433,967.7 433,961.6 433,955.6 433,949.5 433,943.5 433,937.4 433,931.4 433,925.3 433,919.3 433,913.2 433,907.2 433,901.1 433,895.1 433,888.7 434.1,883.3 437.4,878.5 442.3,875.5 448.1,874.9 453.5,876.8 457.7,880.8 459.7,885.3M441.8,1113L441.8,1106.9 441.8,1100.9 441.8,1094.8 441.8,1088.8 441.8,1082.7 441.8,1076.7 441.8,1070.6 441.8,1064.6 441.8,1058.5 441.8,1052.5 441.8,1046.4 441.8,1040.4 441.8,1034.3 441.8,1028.2 441.8,1022.2 441.8,1016.1 441.8,1010.1 441.8,1004 441.8,998 441.8,991.9 441.8,985.9 441.8,979.8 441.8,973.8 441.8,967.7 441.8,961.6 441.8,955.6 441.8,949.5 441.8,943.5 441.8,937.4 441.8,931.4 441.8,925.3 441.8,919.3 441.8,913.2 441.8,907.2 441.8,901.1 441.8,895.1 441.8,889.3 442.3,886.7 443.5,884.9 445.2,883.8 447.1,883.6 448.9,884.3 450.4,885.7 451.5,888.7" fill="none" stroke="#202020" stroke-width="1.22"/>
<path d="M450.5,1114L450.5,1108 450.5,1101.9 450.5,1095.9 450.5,1089.9 450.5,1083.9 450.5,1077.8 450.5,1071.8 450.5,1065.8 450.5,1059.8 450.5,1053.7 450.5,1047.7 450.5,1041.7 450.5,1035.6 450.5,1029.6 450.5,1023.6 450.5,1017.6 450.5,1011.5 450.5,1005.5 450.5,999.5 450.5,993.4 450.5,987.4 450.5,981.4 450.5,975.4 450.5,969.3 450.5,963.3 450.5,957.3 450.5,951.2 450.5,945.2 450.5,939.2 450.5,933.2 450.5,927.1 450.5,921.1 450.5,915.1 450.5,909.1 450.5,903 450.5,896.9 450.7,893 451.4,888.9 452.4,885 453.9,881.2 455.7,877.5 457.9,874 460.5,870.7 463.4,867.6 466.6,864.8 470.1,862.3 473.8,860.1 477.7,858.1 481.8,856.6 486,855.3 490.3,854.4 494.8,853.9 499.2,853.7 503.7,853.9 508.1,854.7 512.4,855.8 516.5,857.5 520.5,859.5 524.2,862 527.7,864.9 530.8,868.1 533.6,871.6 536,875.4 538,879.4 539.6,883.6 540.8,888 541.5,892.5 541.7,896.9 541.7,903.1 541.7,909.2 541.7,915.2 541.7,921.3 541.7,927.4 541.7,933.5 541.7,939.6 541.7,945.6 541.7,951.7 541.7,957.8 541.7,963.9 541.7,970 541.7,976.1 541.7,982.1 541.7,988.2 541.7,994.3 541.7,1000.4 541.7,1006.5 541.7,1012.5 541.7,1018.6 541.7,1024.7 541.7,1030.8 541.7,1036.9 541.7,1042.9 541.7,1049 541.7,1055.1 541.7,1061.2 541.7,1067.3 541.7,1073.4 541.7,1079.4 541.7,1085.5 541.7,1091.6 541.7,1097.7 541.7,1103.8 541.7,1109.8 541.7,1115.9 541.7,1122 533.1,1122 533.1,1115.9 533.1,1109.8 533.1,1103.8 533.1,1097.7 533.1,1091.6 533.1,1085.5 533.1,1079.4 533.1,1073.4 533.1,1067.3 533.1,1061.2 533.1,1055.1 533.1,1049 533.1,1042.9 533.1,1036.9 533.1,1030.8 533.1,1024.7 533.1,1018.6 533.1,1012.5 533.1,1006.5 533.1,1000.4 533.1,994.3 533.1,988.2 533.1,982.1 533.1,976.1 533.1,970 533.1,963.9 533.1,957.8 533.1,951.7 533.1,945.6 533.1,939.6 533.1,933.5 533.1,927.4 533.1,921.3 533.1,915.2 533.1,909.2 533.1,903.1 533.1,897.1 532.9,893.4 532.4,889.8 531.4,886.3 530.2,882.9 528.5,879.6 526.6,876.6 524.4,873.7 521.9,871.2 519.1,868.9 516.1,866.9 513,865.3 509.7,864 506.2,863.1 502.7,862.5 499.2,862.3 495.5,862.5 491.7,862.9 488.1,863.7 484.5,864.7 481.1,866 477.9,867.6 474.8,869.5 472,871.5 469.4,873.8 467,876.3 465,878.9 463.2,881.7 461.7,884.6 460.6,887.7 459.8,890.7 459.3,893.9 459.1,897.1 459.1,903 459.1,909.1 459.1,915.1 459.1,921.1 459.1,927.1 459.1,933.2 459.1,939.2 459.1,945.2 459.1,951.2 459.1,957.3 459.1,963.3 459.1,969.3 459.1,975.4 459.1,981.4 459.1,987.4 459.1,993.4 459.1,999.5 459.1,1005.5 459.1,1011.5 459.1,1017.6 459.1,1023.6 459.1,1029.6 459.1,1035.6 459.1,1041.7 459.1,1047.7 459.1,1053.7 459.1,1059.8 459.1,1065.8 459.1,1071.8 459.1,1077.8 459.1,1083.9 459.1,1089.9 459.1,1095.9 459.1,1101.9 459.1,1108 459.1,1114Z" fill="#fff" stroke="none"/>
<path d="M450.5,1114L450.5,1108 450.5,1101.9 450.5,1095.9 450.5,1089.9 450.5,1083.9 450.5,1077.8 450.5,1071.8 450.5,1065.8 450.5,1059.8 450.5,1053.7 450.5,1047.7 450.5,1041.7 450.5,1035.6 450.5,1029.6 450.5,1023.6 450.5,1017.6 450.5,1011.5 450.5,1005.5 450.5,999.5 450.5,993.4 450.5,987.4 450.5,981.4 450.5,975.4 450.5,969.3 450.5,963.3 450.5,957.3 450.5,951.2 450.5,945.2 450.5,939.2 450.5,933.2 450.5,927.1 450.5,921.1 450.5,915.1 450.5,909.1 450.5,903 450.5,896.9 450.7,893 451.4,888.9 452.4,885 453.9,881.2 455.7,877.5 457.9,874 460.5,870.7 463.4,867.6 466.6,864.8 470.1,862.3 473.8,860.1 477.7,858.1 481.8,856.6 486,855.3 490.3,854.4 494.8,853.9 499.2,853.7 503.7,853.9 508.1,854.7 512.4,855.8 516.5,857.5 520.5,859.5 524.2,862 527.7,864.9 530.8,868.1 533.6,871.6 536,875.4 538,879.4 539.6,883.6 540.8,888 541.5,892.5 541.7,896.9 541.7,903.1 541.7,909.2 541.7,915.2 541.7,921.3 541.7,927.4 541.7,933.5 541.7,939.6 541.7,945.6 541.7,951.7 541.7,957.8 541.7,963.9 541.7,970 541.7,976.1 541.7,982.1 541.7,988.2 541.7,994.3 541.7,1000.4 541.7,1006.5 541.7,1012.5 541.7,1018.6 541.7,1024.7 541.7,1030.8 541.7,1036.9 541.7,1042.9 541.7,1049 541.7,1055.1 541.7,1061.2 541.7,1067.3 541.7,1073.4 541.7,1079.4 541.7,1085.5 541.7,1091.6 541.7,1097.7 541.7,1103.8 541.7,1109.8 541.7,1115.9 541.7,1122M459.1,1114L459.1,1108 459.1,1101.9 459.1,1095.9 459.1,1089.9 459.1,1083.9 459.1,1077.8 459.1,1071.8 459.1,1065.8 459.1,1059.8 459.1,1053.7 459.1,1047.7 459.1,1041.7 459.1,1035.6 459.1,1029.6 459.1,1023.6 459.1,1017.6 459.1,1011.5 459.1,1005.5 459.1,999.5 459.1,993.4 459.1,987.4 459.1,981.4 459.1,975.4 459.1,969.3 459.1,963.3 459.1,957.3 459.1,951.2 459.1,945.2 459.1,939.2 459.1,933.2 459.1,927.1 459.1,921.1 459.1,915.1 459.1,909.1 459.1,903 459.1,897.1 459.3,893.9 459.8,890.7 460.6,887.7 461.7,884.6 463.2,881.7 465,878.9 467,876.3 469.4,873.8 472,871.5 474.8,869.5 477.9,867.6 481.1,866 484.5,864.7 488.1,863.7 491.7,862.9 495.5,862.5 499.2,862.3 502.7,862.5 506.2,863.1 509.7,864 513,865.3 516.1,866.9 519.1,868.9 521.9,871.2 524.4,873.7 526.6,876.6 528.5,879.6 530.2,882.9 531.4,886.3 532.4,889.8 532.9,893.4 533.1,897.1 533.1,903.1 533.1,909.2 533.1,915.2 533.1,921.3 533.1,927.4 533.1,933.5 533.1,939.6 533.1,945.6 533.1,951.7 533.1,957.8 533.1,963.9 533.1,970 533.1,976.1 533.1,982.1 533.1,988.2 533.1,994.3 533.1,1000.4 533.1,1006.5 533.1,1012.5 533.1,1018.6 533.1,1024.7 533.1,1030.8 533.1,1036.9 533.1,1042.9 533.1,1049 533.1,1055.1 533.1,1061.2 533.1,1067.3 533.1,1073.4 533.1,1079.4 533.1,1085.5 533.1,1091.6 533.1,1097.7 533.1,1103.8 533.1,1109.8 533.1,1115.9 533.1,1122" fill="none" stroke="#202020" stroke-width="1.22"/>
<path d="M575.7,1050L575.7,1043.6 575.7,1037.1 575.7,1030.7 575.7,1024.3 575.7,1017.9 575.7,1011.4 575.7,1005 575.7,1001.1 575.6,997.1 575.4,993.2 575.1,989.3 574.8,985.4 574.5,981.5 574,977.7 573.5,973.9 572.9,970.2 572.3,966.5 571.6,962.8 570.8,959.3 569.9,955.7 569,952.3 568.1,948.9 567.1,945.6 566,942.4 564.9,939.3 563.7,936.3 562.5,933.3 561.2,930.5 559.9,927.8 558.5,925.1 557.1,922.6 555.7,920.2 554.2,918 552.7,915.8 551.2,913.8 549.6,911.9 548,910.2 546.4,908.5 544.8,907 543.2,905.7 541.6,904.5 539.9,903.4 538.3,902.4 536.7,901.6 535.1,900.9 533.4,900.4 531.8,899.9 530.2,899.6 528.6,899.5 527,899.4 525.4,899.4 523.9,899.5 522.3,899.7 520.8,900 519.2,900.3 517.7,900.7 516.1,901.2 514.5,901.7 513,902.3 511.4,903 509.9,903.8 508.3,904.6 506.7,905.5 505.2,906.5 503.6,907.6 502,908.7 500.5,910 499,911.3 497.4,912.6 495.9,914.1 494.4,915.6 492.8,917.2 491.3,918.9 489.8,920.6 488.4,922.4 486.9,924.3 485.4,926.3 484,928.3 482.6,930.4 481.1,932.6 479.8,934.9 478.4,937.2 477,939.5 475.7,942 474.4,944.5 473.1,947 471.8,949.7 470.5,952.4 469.3,955.1 468.1,957.9 466.9,960.8 465.8,963.7 464.6,966.7 463.5,969.7 462.5,972.8 461.4,975.9 460.4,979.1 459.4,982.3 458.4,985.6 457.5,988.9 456.6,992.3 455.7,995.7 454.8,999.2 454,1002.6 453.2,1006.2 452.4,1009.7 451.7,1013.3 451,1017 450.4,1020.6 449.7,1024.3 449.1,1028.1 448.6,1031.8 448,1035.6 447.5,1039.4 447,1043.2 446.6,1047.1 446.2,1050.9 445.8,1054.8 445.5,1058.7 445.2,1062.6 445,1066.6 444.7,1070.5 444.5,1074.5 444.4,1078.4 444.3,1082.4 444.2,1086.4 444.1,1090.3 444.1,1094.3 444.1,1100.5 444.1,1106.8 444.1,1113 435.1,1113 435.1,1106.8 435.1,1100.5 435.1,1094.3 435.1,1090.2 435.2,1086.2 435.3,1082.1 435.4,1078.1 435.5,1074.1 435.7,1070 436,1066 436.2,1062 436.5,1058 436.9,1054 437.3,1050 437.7,1046.1 438.1,1042.2 438.6,1038.3 439.1,1034.4 439.6,1030.5 440.2,1026.7 440.8,1022.9 441.5,1019.1 442.2,1015.3 442.9,1011.6 443.6,1007.9 444.4,1004.2 445.2,1000.6 446.1,997 446.9,993.5 447.9,990 448.8,986.5 449.8,983.1 450.8,979.7 451.8,976.4 452.9,973.1 453.9,969.9 455.1,966.7 456.2,963.5 457.4,960.4 458.6,957.4 459.8,954.4 461.1,951.5 462.4,948.6 463.7,945.8 465,943.1 466.4,940.4 467.8,937.7 469.2,935.1 470.6,932.6 472.1,930.2 473.6,927.8 475.1,925.5 476.6,923.2 478.1,921 479.7,918.9 481.3,916.8 482.9,914.9 484.6,912.9 486.2,911.1 487.9,909.3 489.6,907.6 491.3,906 493.1,904.5 494.8,903 496.6,901.6 498.4,900.3 500.2,899 502,897.9 503.9,896.8 505.7,895.8 507.6,894.9 509.5,894 511.4,893.3 513.3,892.6 515.3,892 517.2,891.5 519.2,891.1 521.1,890.8 523.1,890.6 525,890.4 527,890.4 529.3,890.5 531.6,890.7 533.8,891.2 536.1,891.8 538.3,892.5 540.5,893.4 542.6,894.5 544.7,895.7 546.8,897.1 548.8,898.6 550.8,900.3 552.7,902.1 554.6,904 556.4,906.1 558.2,908.2 560,910.5 561.7,912.9 563.3,915.5 564.9,918.1 566.5,920.9 567.9,923.7 569.4,926.7 570.8,929.7 572.1,932.9 573.3,936.1 574.5,939.5 575.7,942.9 576.7,946.4 577.7,949.9 578.7,953.6 579.6,957.3 580.4,961 581.1,964.9 581.8,968.7 582.4,972.6 582.9,976.6 583.4,980.6 583.8,984.6 584.1,988.7 584.4,992.7 584.6,996.8 584.7,1000.9 584.7,1005 584.7,1011.4 584.7,1017.9 584.7,1024.3 584.7,1030.7 584.7,1037.1 584.7,1043.6 584.7,1050Z" fill="#fff" stroke="none"/>
<path d="M575.7,1050L575.7,1043.6 575.7,1037.1 575.7,1030.7 575.7,1024.3 575.7,1017.9 575.7,1011.4 575.7,1005 575.7,1001.1 575.6,997.1 575.4,993.2 575.1,989.3 574.8,985.4 574.5,981.5 574,977.7 573.5,973.9 572.9,970.2 572.3,966.5 571.6,962.8 570.8,959.3 569.9,955.7 569,952.3 568.1,948.9 567.1,945.6 566,942.4 564.9,939.3 563.7,936.3 562.5,933.3 561.2,930.5 559.9,927.8 558.5,925.1 557.1,922.6 555.7,920.2 554.2,918 552.7,915.8 551.2,913.8 549.6,911.9 548,910.2 546.4,908.5 544.8,907 543.2,905.7 541.6,904.5 539.9,903.4 538.3,902.4 536.7,901.6 535.1,900.9 533.4,900.4 531.8,899.9 530.2,899.6 528.6,899.5 527,899.4 525.4,899.4 523.9,899.5 522.3,899.7 520.8,900 519.2,900.3 517.7,900.7 516.1,901.2 514.5,901.7 513,902.3 511.4,903 509.9,903.8 508.3,904.6 506.7,905.5 505.2,906.5 503.6,907.6 502,908.7 500.5,910 499,911.3 497.4,912.6 495.9,914.1 494.4,915.6 492.8,917.2 491.3,918.9 489.8,920.6 488.4,922.4 486.9,924.3 485.4,926.3 484,928.3 482.6,930.4 481.1,932.6 479.8,934.9 478.4,937.2 477,939.5 475.7,942 474.4,944.5 473.1,947 471.8,949.7 470.5,952.4 469.3,955.1 468.1,957.9 466.9,960.8 465.8,963.7 464.6,966.7 463.5,969.7 462.5,972.8 461.4,975.9 460.4,979.1 459.4,982.3 458.4,985.6 457.5,988.9 456.6,992.3 455.7,995.7 454.8,999.2 454,1002.6 453.2,1006.2 452.4,1009.7 451.7,1013.3 451,1017 450.4,1020.6 449.7,1024.3 449.1,1028.1 448.6,1031.8 448,1035.6 447.5,1039.4 447,1043.2 446.6,1047.1 446.2,1050.9 445.8,1054.8 445.5,1058.7 445.2,1062.6 445,1066.6 444.7,1070.5 444.5,1074.5 444.4,1078.4 444.3,1082.4 444.2,1086.4 444.1,1090.3 444.1,1094.3 444.1,1100.5 444.1,1106.8 444.1,1113M584.7,1050L584.7,1043.6 584.7,1037.1 584.7,1030.7 584.7,1024.3 584.7,1017.9 584.7,1011.4 584.7,1005 584.7,1000.9 584.6,996.8 584.4,992.7 584.1,988.7 583.8,984.6 583.4,980.6 582.9,976.6 582.4,972.6 581.8,968.7 581.1,964.9 580.4,961 579.6,957.3 578.7,953.6 577.7,949.9 576.7,946.4 575.7,942.9 574.5,939.5 573.3,936.1 572.1,932.9 570.8,929.7 569.4,926.7 567.9,923.7 566.5,920.9 564.9,918.1 563.3,915.5 561.7,912.9 560,910.5 558.2,908.2 556.4,906.1 554.6,904 552.7,902.1 550.8,900.3 548.8,898.6 546.8,897.1 544.7,895.7 542.6,894.5 540.5,893.4 538.3,892.5 536.1,891.8 533.8,891.2 531.6,890.7 529.3,890.5 527,890.4 525,890.4 523.1,890.6 521.1,890.8 519.2,891.1 517.2,891.5 515.3,892 513.3,892.6 511.4,893.3 509.5,894 507.6,894.9 505.7,895.8 503.9,896.8 502,897.9 500.2,899 498.4,900.3 496.6,901.6 494.8,903 493.1,904.5 491.3,906 489.6,907.6 487.9,909.3 486.2,911.1 484.6,912.9 482.9,914.9 481.3,916.8 479.7,918.9 478.1,921 476.6,923.2 475.1,925.5 473.6,927.8 472.1,930.2 470.6,932.6 469.2,935.1 467.8,937.7 466.4,940.4 465,943.1 463.7,945.8 462.4,948.6 461.1,951.5 459.8,954.4 458.6,957.4 457.4,960.4 456.2,963.5 455.1,966.7 453.9,969.9 452.9,973.1 451.8,976.4 450.8,979.7 449.8,983.1 448.8,986.5 447.9,990 446.9,993.5 446.1,997 445.2,1000.6 444.4,1004.2 443.6,1007.9 442.9,1011.6 442.2,1015.3 441.5,1019.1 440.8,1022.9 440.2,1026.7 439.6,1030.5 439.1,1034.4 438.6,1038.3 438.1,1042.2 437.7,1046.1 437.3,1050 436.9,1054 436.5,1058 436.2,1062 436,1066 435.7,1070 435.5,1074.1 435.4,1078.1 435.3,1082.1 435.2,1086.2 435.1,1090.2 435.1,1094.3 435.1,1100.5 435.1,1106.8 435.1,1113" fill="none" stroke="#202020" stroke-width="1.22"/>
<path d="M390.2,1097L390.2,1090.9 390.2,1084.9 390.2,1078.8 390.2,1072.8 390.2,1066.7 390.2,1060.7 390.2,1054.6 390.2,1048.6 390.2,1042.5 390.2,1036.5 390.2,1030.4 390.2,1024.4 390.2,1018.3 390.2,1012.3 390.2,1006.2 390.2,1000.2 390.2,994.1 390.2,988.1 390.2,982 390.2,976 390.2,969.9 390.2,963.9 390.2,957.8 390.2,951.8 390.2,945.7 390.2,939.7 390.2,933.6 390.2,927.6 390.2,921.5 390.2,915.5 390.2,909.4 390.2,903.4 390.2,897.3 390.2,891.3 390.2,885.2 390.2,879.2 390.2,873.1 390.2,867.1 390.2,860.9 390.6,856.2 391.6,851.6 393.4,847.5 395.9,844 399.3,841.6 403,840.6 405.6,840.9 407.6,841.6 409.4,842.7 411,844.1 412.4,845.7 413.7,847.5 414.9,849.6 416,851.8 417.1,854.3 418.1,856.9 419,859.8 419.8,862.9 420.6,866.1 421.3,869.5 422,873 422.6,876.7 423.1,880.5 423.5,884.4 423.9,888.4 424.1,892.5 424.3,896.6 424.5,900.8 424.5,905 424.5,911.1 424.5,917.2 424.5,923.4 424.5,929.5 424.5,935.6 424.5,941.7 424.5,947.8 424.5,953.9 424.5,960.1 424.5,966.2 424.5,972.3 424.5,978.4 424.5,984.5 424.5,990.6 424.5,996.8 424.5,1002.9 424.5,1009 424.5,1015.1 424.5,1021.2 424.5,1027.4 424.5,1033.5 424.5,1039.6 424.5,1045.7 424.5,1051.8 424.5,1057.9 424.5,1064.1 424.5,1070.2 424.5,1076.3 424.5,1082.4 424.5,1088.5 424.5,1094.6 424.5,1100.8 424.5,1106.9 424.5,1113 416.1,1113 416.1,1106.9 416.1,1100.8 416.1,1094.6 416.1,1088.5 416.1,1082.4 416.1,1076.3 416.1,1070.2 416.1,1064.1 416.1,1057.9 416.1,1051.8 416.1,1045.7 416.1,1039.6 416.1,1033.5 416.1,1027.4 416.1,1021.2 416.1,1015.1 416.1,1009 416.1,1002.9 416.1,996.8 416.1,990.6 416.1,984.5 416.1,978.4 416.1,972.3 416.1,966.2 416.1,960.1 416.1,953.9 416.1,947.8 416.1,941.7 416.1,935.6 416.1,929.5 416.1,923.4 416.1,917.2 416.1,911.1 416.1,905 416.1,901 415.9,897 415.8,893 415.5,889.1 415.2,885.3 414.7,881.5 414.3,877.9 413.7,874.4 413.1,871.1 412.4,867.9 411.7,865 410.9,862.2 410.1,859.7 409.3,857.4 408.4,855.3 407.5,853.5 406.7,852.1 405.8,850.9 405.1,850 404.4,849.4 403.9,849.1 403.6,849 404,849 403,849.1 402,849.9 400.7,851.6 399.6,854.2 398.9,857.4 398.6,861.1 398.6,867.1 398.6,873.1 398.6,879.2 398.6,885.2 398.6,891.3 398.6,897.3 398.6,903.4 398.6,909.4 398.6,915.5 398.6,921.5 398.6,927.6 398.6,933.6 398.6,939.7 398.6,945.7 398.6,951.8 398.6,957.8 398.6,963.9 398.6,969.9 398.6,976 398.6,982 398.6,988.1 398.6,994.1 398.6,1000.2 398.6,1006.2 398.6,1012.3 398.6,1018.3 398.6,1024.4 398.6,1030.4 398.6,1036.5 398.6,1042.5 398.6,1048.6 398.6,1054.6 398.6,1060.7 398.6,1066.7 398.6,1072.8 398.6,1078.8 398.6,1084.9 398.6,1090.9 398.6,1097Z" fill="#fff" stroke="none"/>
<path d="M390.2,1097L390.2,1090.9 390.2,1084.9 390.2,1078.8 390.2,1072.8 390.2,1066.7 390.2,1060.7 390.2,1054.6 390.2,1048.6 390.2,1042.5 390.2,1036.5 390.2,1030.4 390.2,1024.4 390.2,1018.3 390.2,1012.3 390.2,1006.2 390.2,1000.2 390.2,994.1 390.2,988.1 390.2,982 390.2,976 390.2,969.9 390.2,963.9 390.2,957.8 390.2,951.8 390.2,945.7 390.2,939.7 390.2,933.6 390.2,927.6 390.2,921.5 390.2,915.5 390.2,909.4 390.2,903.4 390.2,897.3 390.2,891.3 390.2,885.2 390.2,879.2 390.2,873.1 390.2,867.1 390.2,860.9 390.6,856.2 391.6,851.6 393.4,847.5 395.9,844 399.3,841.6 403,840.6 405.6,840.9 407.6,841.6 409.4,842.7 411,844.1 412.4,845.7 413.7,847.5 414.9,849.6 416,851.8 417.1,854.3 418.1,856.9 419,859.8 419.8,862.9 420.6,866.1 421.3,869.5 422,873 422.6,876.7 423.1,880.5 423.5,884.4 423.9,888.4 424.1,892.5 424.3,896.6 424.5,900.8 424.5,905 424.5,911.1 424.5,917.2 424.5,923.4 424.5,929.5 424.5,935.6 424.5,941.7 424.5,947.8 424.5,953.9 424.5,960.1 424.5,966.2 424.5,972.3 424.5,978.4 424.5,984.5 424.5,990.6 424.5,996.8 424.5,1002.9 424.5,1009 424.5,1015.1 424.5,1021.2 424.5,1027.4 424.5,1033.5 424.5,1039.6 424.5,1045.7 424.5,1051.8 424.5,1057.9 424.5,1064.1 424.5,1070.2 424.5,1076.3 424.5,1082.4 424.5,1088.5 424.5,1094.6 424.5,1100.8 424.5,1106.9 424.5,1113M398.6,1097L398.6,1090.9 398.6,1084.9 398.6,1078.8 398.6,1072.8 398.6,1066.7 398.6,1060.7 398.6,1054.6 398.6,1048.6 398.6,1042.5 398.6,1036.5 398.6,1030.4 398.6,1024.4 398.6,1018.3 398.6,1012.3 398.6,1006.2 398.6,1000.2 398.6,994.1 398.6,988.1 398.6,982 398.6,976 398.6,969.9 398.6,963.9 398.6,957.8 398.6,951.8 398.6,945.7 398.6,939.7 398.6,933.6 398.6,927.6 398.6,921.5 398.6,915.5 398.6,909.4 398.6,903.4 398.6,897.3 398.6,891.3 398.6,885.2 398.6,879.2 398.6,873.1 398.6,867.1 398.6,861.1 398.9,857.4 399.6,854.2 400.7,851.6 402,849.9 403,849.1 404,849 403.6,849 403.9,849.1 404.4,849.4 405.1,850 405.8,850.9 406.7,852.1 407.5,853.5 408.4,855.3 409.3,857.4 410.1,859.7 410.9,862.2 411.7,865 412.4,867.9 413.1,871.1 413.7,874.4 414.3,877.9 414.7,881.5 415.2,885.3 415.5,889.1 415.8,893 415.9,897 416.1,901 416.1,905 416.1,911.1 416.1,917.2 416.1,923.4 416.1,929.5 416.1,935.6 416.1,941.7 416.1,947.8 416.1,953.9 416.1,960.1 416.1,966.2 416.1,972.3 416.1,978.4 416.1,984.5 416.1,990.6 416.1,996.8 416.1,1002.9 416.1,1009 416.1,1015.1 416.1,1021.2 416.1,1027.4 416.1,1033.5 416.1,1039.6 416.1,1045.7 416.1,1051.8 416.1,1057.9 416.1,1064.1 416.1,1070.2 416.1,1076.3 416.1,1082.4 416.1,1088.5 416.1,1094.6 416.1,1100.8 416.1,1106.9 416.1,1113" fill="none" stroke="#202020" stroke-width="1.22"/>
<path d="M422.8,915 V769 Q422.8,766.4 429.3,766.4 Q435.8,766.4 435.8,769 V915" fill="#fff" stroke="#202020" stroke-width="1.22"/>
<path d="M435.4,915L435.4,1114 424.6,1114 424.6,915Z" fill="#fff" stroke="none"/>
<path d="M435.4,915L435.4,1114M424.6,915L424.6,1114" fill="none" stroke="#202020" stroke-width="1.22"/>
<path d="M398.6,918.3 L412,918 L415,915.2 V911.2 H423.6 L428,914 L431.4,916 L461,915.4" fill="none" stroke="#111" stroke-width="2.0" />
<path d="M407.5,921.2 L416,920.4 M431.4,916 L438,918.6 L441.6,923.5" fill="none" stroke="#111" stroke-width="1.4" />
<circle cx="461.2" cy="915.6" r="1.3" fill="#111" stroke="#111" stroke-width="0.5" />
<circle cx="442" cy="924.2" r="1.4" fill="#111" stroke="#111" stroke-width="0.5" />
<path d="M421,1113.6 Q446,1112 467.7,1121.5 C469.5,1141 455,1158 437,1161 C424,1162 414,1150 410,1130 Z" fill="#fff" stroke="#202020" stroke-width="1.22"/>
<path d="M421.5,1160.4 L424,1162.4 M434.6,1162.6 L437.5,1161" fill="none" stroke="#202020" stroke-width="1.2" />
<circle cx="429.2" cy="1165.2" r="6" fill="#fff" stroke="#202020" stroke-width="1.22" />
<defs><clipPath id="gclip"><rect x="0" y="0" width="2000" height="1318.4"/></clipPath></defs>
<path d="M522.1,1121.4 C525.7,1117.5 528.1,1115.4 532.1,1115.4 H542.1 C546.1,1115.4 548.5,1117.5 552.1,1121.4Z" fill="#fff" stroke="#202020" stroke-width="1.22"/>
<circle cx="537.1" cy="1155.4" r="34.6" fill="#fff" stroke="#202020" stroke-width="1.22" />
<path d="M562.7,1058.4 C566.8,1051.6 569.5,1047.9 574.7,1047.9 H584.7 C589.9,1047.9 592.6,1051.6 596.7,1058.4Z" fill="#fff" stroke="#202020" stroke-width="1.22"/>
<ellipse cx="579.7" cy="1056.1" rx="9.9" ry="1.3" fill="#111" stroke="#202020" stroke-width="0.6" />
<circle cx="579.7" cy="1116" r="58.2" fill="#fff" stroke="#202020" stroke-width="1.22" />
<path d="M121.2,1096.8 C125.3,1089.8 128,1086 133.2,1086 H143.2 C148.4,1086 151.1,1089.8 155.2,1096.8Z" fill="#fff" stroke="#202020" stroke-width="1.22"/>
<ellipse cx="138.2" cy="1094.4" rx="9.9" ry="1.3" fill="#111" stroke="#202020" stroke-width="0.6" />
<circle cx="138.2" cy="1154.4" r="58.2" fill="#fff" stroke="#202020" stroke-width="1.22" />
<path d="M305.4,1140 C309.1,1135.7 311.6,1133.4 315.7,1133.4 H325.7 C329.8,1133.4 332.3,1135.7 335.9,1140Z" fill="#fff" stroke="#202020" stroke-width="1.22"/>
<circle cx="320.7" cy="1174" r="34.6" fill="#fff" stroke="#202020" stroke-width="1.22" />
<path d="M379.4,1103 C383.1,1099 385.6,1096.8 389.7,1096.8 H399.7 C403.8,1096.8 406.3,1099 409.9,1103Z" fill="#fff" stroke="#202020" stroke-width="1.22"/>
<circle cx="394.7" cy="1137.2" r="34.8" fill="#fff" stroke="#202020" stroke-width="1.22" />
<path d="M448.4,1157.8 C452.1,1153.6 454.6,1151.4 458.7,1151.4 H468.7 C472.8,1151.4 475.3,1153.6 478.9,1157.8Z" fill="#fff" stroke="#202020" stroke-width="1.22"/>
<circle cx="463.7" cy="1191.7" r="34.5" fill="#fff" stroke="#202020" stroke-width="1.22" />
<path d="M703.3,1170.4 C707.4,1163.6 710.1,1159.9 715.3,1159.9 H725.3 C730.5,1159.9 733.2,1163.6 737.3,1170.4Z" fill="#fff" stroke="#202020" stroke-width="1.22"/>
<ellipse cx="720.3" cy="1168.1" rx="9.9" ry="1.3" fill="#111" stroke="#202020" stroke-width="0.6" />
<circle cx="720.3" cy="1228" r="58.2" fill="#fff" stroke="#202020" stroke-width="1.22" />
<path d="M262.2,1209.7 C266.3,1202.7 269,1198.9 274.2,1198.9 H284.2 C289.4,1198.9 292.1,1202.7 296.2,1209.7Z" fill="#fff" stroke="#202020" stroke-width="1.22"/>
<ellipse cx="279.2" cy="1207.3" rx="9.9" ry="1.3" fill="#111" stroke="#202020" stroke-width="0.6" />
<circle cx="279.2" cy="1267.2" r="58.1" fill="#fff" stroke="#202020" stroke-width="1.22" clip-path="url(#gclip)"/>
</g>
<path d="M784,737.4 H812 V1318.2" fill="none" stroke="#666" stroke-width="1.7" />
<path d="M79.8,1365.6 V1388.6 H774.9 V1365.3" fill="none" stroke="#444" stroke-width="1.8" />
<g font-family="Liberation Sans" font-size="26.6" text-anchor="middle" fill="#111" stroke="#111" stroke-width="0.3" ><text transform="translate(399.5,1386.5) scale(0.843,1)">1</text><text transform="translate(413.4,1386.5) scale(0.843,1)">0</text><text transform="translate(427.2,1386.5) scale(0.843,1)">0</text><text transform="translate(441.1,1386.5) scale(0.649,1)">C</text><text transform="translate(454.9,1386.5) scale(0.563,1)">M</text></g>
<g transform="translate(811.3,1107.6) rotate(-90)" font-family="Liberation Sans" font-size="26" text-anchor="middle" fill="#111" stroke="#111" stroke-width="0.3" ><text transform="translate(5.8,0) scale(0.728,1)">6</text><text transform="translate(17.5,0) scale(0.728,1)">6</text><text transform="translate(26.7,0) scale(1.000,1)">.</text><text transform="translate(52.6,0) scale(0.728,1)">3</text><text transform="translate(64.3,0) scale(1.216,1)">-</text><text transform="translate(76,0) scale(0.728,1)">9</text><text transform="translate(87.8,0) scale(0.728,1)">6</text><text transform="translate(96.9,0) scale(1.000,1)">.</text><text transform="translate(122.8,0) scale(0.728,1)">3</text><text transform="translate(134.5,0) scale(0.561,1)">C</text><text transform="translate(146.2,0) scale(0.486,1)">M</text></g>
<path d="M991,648.5 H1058.5 M991,652.1 H1058.5" fill="none" stroke="#444" stroke-width="1.2" />
<path d="M976,649.5 H984 M1066,649.5 H1075" fill="none" stroke="#777" stroke-width="1.0" />
<path d="M986.9,648.6 l-5.4,-2.4 l1.4,4.6 l-2.2,2.6 l4.2,1.4 v3 l-1.4,1 v7.4 h6.8 v-7.4 l-1.4,-1 v-3 l4.2,-1.4 l-2.2,-2.6 l1.4,-4.6 l-5.4,2.4z" fill="#111" stroke="#111" stroke-width="0.8" />
<path d="M1063.6,648.6 l-5.4,-2.4 l1.4,4.6 l-2.2,2.6 l4.2,1.4 v3 l-1.4,1 v7.4 h6.8 v-7.4 l-1.4,-1 v-3 l4.2,-1.4 l-2.2,-2.6 l1.4,-4.6 l-5.4,2.4z" fill="#111" stroke="#111" stroke-width="0.8" />
<path d="M972.6,711.4 V694 A59.4,15.4 0 0 1 1091.2,689.5" fill="none" stroke="#111" stroke-width="1.5"/>
<path d="M1005,724.9 A59.3,15.2 0 0 1 973,711.4 A59.3,15.2 0 0 1 1091.6,711.4 A59.3,15.2 0 0 1 1058,725.2" fill="none" stroke="#111" stroke-width="1.5"/>
<path d="M1014,726.1 H1022 M1044,726.3 H1052" fill="none" stroke="#111" stroke-width="1.2" />
<rect x="990.3" y="710" width="8.8" height="8.3" fill="#111" stroke="#111" stroke-width="0.5" />
<rect x="1067.2" y="710" width="9.6" height="8.3" fill="#111" stroke="#111" stroke-width="0.5" />
<rect x="1026.8" y="712.4" width="12.6" height="10.6" fill="#222" stroke="#111" stroke-width="0.5" />
<line x1="1028" y1="721.6" x2="1038.4" y2="721.6" stroke="#ddd" stroke-width="1.0" />
<path d="M1196.4,555.2 V741 A7.3,2 0 0 0 1211,741 V555.2" fill="none" stroke="#4a4a4a" stroke-width="1.6" />
<path d="M1198.5,558.2 V739.2 M1208.9,558.2 V739.2" fill="none" stroke="#d0d0d0" stroke-width="0.8" />
<ellipse cx="1203.7" cy="555.2" rx="7.3" ry="2.9" fill="#fff" stroke="#4a4a4a" stroke-width="1.6" />
<ellipse cx="1203.7" cy="555.6" rx="4.7" ry="1.5" fill="none" stroke="#777" stroke-width="0.9" />
<path d="M1256.5,466.2 V747.4 A7.5,2 0 0 0 1271.4,747.4 V466.2" fill="none" stroke="#4a4a4a" stroke-width="1.6" />
<path d="M1258.6,469.2 V745.6 M1269.3,469.2 V745.6" fill="none" stroke="#d0d0d0" stroke-width="0.8" />
<path d="M1256.5,466.2 H1271.4" fill="none" stroke="#4a4a4a" stroke-width="1.6" />
<rect x="1257.5" y="458.6" width="12.9" height="7.6" fill="#333" stroke="#222" stroke-width="0.6" />
<line x1="1257.9" y1="460.2" x2="1270" y2="461" stroke="#999" stroke-width="0.6" />
<line x1="1257.9" y1="462.6" x2="1270" y2="463.4" stroke="#999" stroke-width="0.6" />
<line x1="1257.9" y1="465" x2="1270" y2="465.8" stroke="#999" stroke-width="0.6" />
<ellipse cx="1264" cy="457.6" rx="6.3" ry="2.3" fill="#fff" stroke="#222" stroke-width="1.2" />
<path d="M1322,466.2 V747.4 A7.3,2 0 0 0 1336.6,747.4 V466.2" fill="none" stroke="#4a4a4a" stroke-width="1.6" />
<path d="M1324.1,469.2 V745.6 M1334.5,469.2 V745.6" fill="none" stroke="#d0d0d0" stroke-width="0.8" />
<path d="M1322,466.2 H1336.6" fill="none" stroke="#4a4a4a" stroke-width="1.6" />
<rect x="1323" y="458.6" width="12.6" height="7.6" fill="#333" stroke="#222" stroke-width="0.6" />
<line x1="1323.4" y1="460.2" x2="1335.2" y2="461" stroke="#999" stroke-width="0.6" />
<line x1="1323.4" y1="462.6" x2="1335.2" y2="463.4" stroke="#999" stroke-width="0.6" />
<line x1="1323.4" y1="465" x2="1335.2" y2="465.8" stroke="#999" stroke-width="0.6" />
<ellipse cx="1329.3" cy="457.6" rx="6.1" ry="2.3" fill="#fff" stroke="#222" stroke-width="1.2" />
<path d="M1479.7,675.1 V649.4 A10.6,10.6 0 0 1 1500.9,649.4 V675.1 A8.6,8.6 0 0 0 1509.5,683.7 H1535.2 A10.6,10.6 0 0 1 1535.2,704.9 H1509.5 A8.6,8.6 0 0 0 1500.9,713.5 V739.2 A10.6,10.6 0 0 1 1479.7,739.2 V713.5 A8.6,8.6 0 0 0 1471.1,704.9 H1445.4 A10.6,10.6 0 0 1 1445.4,683.7 H1471.1 A8.6,8.6 0 0 0 1479.7,675.1 Z" fill="none" stroke="#5a5a5a" stroke-width="1.2" />
<circle cx="1490.3" cy="694.3" r="8.5" fill="none" stroke="#5a5a5a" stroke-width="1.2" />
<circle cx="1490.3" cy="647.6" r="7" fill="none" stroke="#5a5a5a" stroke-width="1.2" />
<circle cx="1490.3" cy="647.6" r="8.8" fill="none" stroke="#aaa" stroke-width="0.7" />
<circle cx="1490.3" cy="740.4" r="7" fill="none" stroke="#5a5a5a" stroke-width="1.2" />
<circle cx="1490.3" cy="740.4" r="8.8" fill="none" stroke="#aaa" stroke-width="0.7" />
<circle cx="1444.9" cy="694.3" r="7" fill="none" stroke="#5a5a5a" stroke-width="1.2" />
<circle cx="1444.9" cy="694.3" r="8.8" fill="none" stroke="#aaa" stroke-width="0.7" />
<circle cx="1535.6" cy="694.3" r="7" fill="none" stroke="#5a5a5a" stroke-width="1.2" />
<circle cx="1535.6" cy="694.3" r="8.8" fill="none" stroke="#aaa" stroke-width="0.7" />
<line x1="1604.3" y1="692.6" x2="1673" y2="692.6" stroke="#111" stroke-width="2.4" />
<line x1="1606" y1="696.2" x2="1671.5" y2="696.2" stroke="#333" stroke-width="1.1" />
<path d="M1607,697 C1609,712 1620,723 1633.5,725.6 L1646.5,725.6 C1660,723 1671,711 1672.8,697.5" fill="none" stroke="#222" stroke-width="1.4" />
<path d="M1634.2,726 A6.5,6.5 0 1 0 1646.2,726" fill="none" stroke="#222" stroke-width="1.3" />
<rect x="1636" y="686.8" width="10" height="5.4" fill="#111" stroke="#111" stroke-width="0.5" />
<path d="M1782.2,752L1782.2,745.9 1782.2,739.8 1782.2,733.7 1782.2,727.6 1782.2,721.5 1782.2,715.4 1782.2,709.3 1782.2,703.3 1782.2,697.2 1782.2,691.1 1782.2,685 1782.2,678.9 1782.2,672.8 1782.2,666.7 1782.2,660.6 1782.2,654.5 1782.2,648.4 1782.2,642.3 1782.2,636.2 1782.2,630.1 1782.2,624 1782.2,618 1782.2,611.9 1782.2,605.8 1782.2,599.7 1782.2,593.6 1782.2,587.5 1782.2,581.4 1782.2,575.3 1782.2,569.2 1782.2,563.1 1782.2,557 1782.2,550.9 1782.2,544.8 1782.2,538.7 1782.2,532.7 1782.2,526.6 1782.2,520.5 1782.2,514.4 1782.2,508.3 1782.2,502.2 1782.2,496.1 1782.3,489.9 1782.4,485.6 1782.8,481.3 1783.5,477 1784.5,472.8 1785.7,468.7 1787.3,464.7 1789,460.9 1791,457.3 1793.3,453.8 1795.8,450.6 1798.5,447.6 1801.4,444.9 1804.5,442.5 1807.7,440.4 1811.1,438.6 1814.6,437.1 1818.2,436 1821.9,435.3 1825.6,434.9 1829.4,434.9 1833.1,435.3 1836.8,436 1840.4,437.1 1843.9,438.6 1847.3,440.4 1850.5,442.5 1853.6,444.9 1856.5,447.6 1859.2,450.6 1861.7,453.8 1864,457.3 1866,460.9 1867.7,464.7 1869.3,468.7 1870.5,472.8 1871.5,477 1872.2,481.3 1872.6,485.6 1872.7,489.9 1872.8,496.1 1872.8,502.2 1872.8,508.3 1872.8,514.4 1872.8,520.5 1872.8,526.6 1872.8,532.7 1872.8,538.8 1872.8,544.9 1872.8,551 1872.8,557.1 1872.8,563.2 1872.8,569.3 1872.8,575.4 1872.8,581.5 1872.8,587.6 1872.8,593.7 1872.8,599.8 1872.8,605.9 1872.8,612 1872.8,618.1 1872.8,624.1 1872.8,630.2 1872.8,636.3 1872.8,642.4 1872.8,648.5 1872.8,654.6 1872.8,660.7 1872.8,666.8 1872.8,672.9 1872.8,679 1872.8,685.1 1872.8,691.2 1872.8,697.3 1872.8,703.4 1872.8,709.5 1872.8,715.6 1872.8,721.7 1872.8,727.8 1872.8,733.9 1872.8,740 1872.8,746.1 1872.8,752.2M1792.2,752L1792.2,745.9 1792.2,739.8 1792.2,733.7 1792.2,727.6 1792.2,721.5 1792.2,715.4 1792.2,709.3 1792.2,703.3 1792.2,697.2 1792.2,691.1 1792.2,685 1792.2,678.9 1792.2,672.8 1792.2,666.7 1792.2,660.6 1792.2,654.5 1792.2,648.4 1792.2,642.3 1792.2,636.2 1792.2,630.1 1792.2,624 1792.2,618 1792.2,611.9 1792.2,605.8 1792.2,599.7 1792.2,593.6 1792.2,587.5 1792.2,581.4 1792.2,575.3 1792.2,569.2 1792.2,563.1 1792.2,557 1792.2,550.9 1792.2,544.8 1792.2,538.7 1792.2,532.7 1792.2,526.6 1792.2,520.5 1792.2,514.4 1792.2,508.3 1792.2,502.2 1792.2,496.1 1792.1,490.1 1792.3,486.3 1792.6,482.6 1793.2,478.9 1794.1,475.4 1795.1,471.9 1796.4,468.6 1797.9,465.4 1799.5,462.4 1801.4,459.6 1803.4,457 1805.5,454.6 1807.8,452.4 1810.2,450.5 1812.7,448.9 1815.3,447.5 1818,446.4 1820.7,445.6 1823.4,445.1 1826.1,444.8 1828.9,444.8 1831.6,445.1 1834.3,445.6 1837,446.4 1839.7,447.5 1842.3,448.9 1844.8,450.5 1847.2,452.4 1849.5,454.6 1851.6,457 1853.6,459.6 1855.5,462.4 1857.1,465.4 1858.6,468.6 1859.9,471.9 1860.9,475.4 1861.8,478.9 1862.4,482.6 1862.7,486.3 1862.9,490.1 1862.8,496.1 1862.8,502.2 1862.8,508.3 1862.8,514.4 1862.8,520.5 1862.8,526.6 1862.8,532.7 1862.8,538.8 1862.8,544.9 1862.8,551 1862.8,557.1 1862.8,563.2 1862.8,569.3 1862.8,575.4 1862.8,581.5 1862.8,587.6 1862.8,593.7 1862.8,599.8 1862.8,605.9 1862.8,612 1862.8,618.1 1862.8,624.1 1862.8,630.2 1862.8,636.3 1862.8,642.4 1862.8,648.5 1862.8,654.6 1862.8,660.7 1862.8,666.8 1862.8,672.9 1862.8,679 1862.8,685.1 1862.8,691.2 1862.8,697.3 1862.8,703.4 1862.8,709.5 1862.8,715.6 1862.8,721.7 1862.8,727.8 1862.8,733.9 1862.8,740 1862.8,746.1 1862.8,752.2" fill="none" stroke="#2a2a2a" stroke-width="1.3"/>
<rect x="1780.4" y="751.6" width="14" height="3.2" fill="#111" stroke="#111" stroke-width="0.4" />
<path d="M1835.5,769.6 C1841.5,759.2 1849.2,752.2 1855.2,752.2 H1879.2 C1885.2,752.2 1889.4,756.2 1893.4,759.8" fill="none" stroke="#222" stroke-width="1.4" />
<line x1="1835.5" y1="769.8" x2="1893.4" y2="769.8" stroke="#222" stroke-width="1.4" />
<rect x="1856.2" y="770.4" width="22" height="19.4" fill="#fff" stroke="#333" stroke-width="1.1" />
<rect x="1856.2" y="770.4" width="22" height="2.6" fill="#222" stroke="#222" stroke-width="0.5" />
<line x1="1856.2" y1="773.2" x2="1878.2" y2="773.2" stroke="#444" stroke-width="1.0" />
<line x1="1856.2" y1="776.1" x2="1878.2" y2="776.1" stroke="#444" stroke-width="1.0" />
<line x1="1856.2" y1="778.9" x2="1878.2" y2="778.9" stroke="#444" stroke-width="1.0" />
<line x1="1856.2" y1="781.8" x2="1878.2" y2="781.8" stroke="#444" stroke-width="1.0" />
<line x1="1856.2" y1="784.6" x2="1878.2" y2="784.6" stroke="#444" stroke-width="1.0" />
<line x1="1856.2" y1="787.5" x2="1878.2" y2="787.5" stroke="#444" stroke-width="1.0" />
<rect x="1856.8" y="774" width="20.8" height="2.2" fill="#bbb" stroke="#bbb" stroke-width="0" />
<rect x="1856.8" y="779.7" width="20.8" height="2.2" fill="#ccc" stroke="#ccc" stroke-width="0" />
<path d="M939.6,1141.5L939.6,1135.3 939.6,1129.1 939.6,1122.9 939.6,1116.6 939.7,1112.5 939.8,1108.4 940.1,1104.3 940.5,1100.1 940.9,1096 941.5,1091.9 942.2,1087.9 943,1083.8 943.9,1079.8 944.9,1075.8 946,1071.8 947.2,1067.8 948.5,1063.9 949.9,1060 951.4,1056.2 953,1052.4 954.7,1048.6 956.5,1044.9 958.4,1041.2 960.4,1037.6 962.5,1034 964.7,1030.5 966.9,1027 969.3,1023.6 971.7,1020.3 974.3,1017 976.9,1013.8 979.6,1010.7 982.3,1007.6 985.2,1004.6 988.1,1001.7 991.1,998.8 994.2,996.1 997.3,993.4 1000.5,990.8 1003.8,988.2 1007.1,985.8 1010.5,983.4 1014,981.2 1017.5,979 1021.1,976.9 1024.7,974.9 1028.4,973 1032.1,971.2 1035.9,969.5 1039.7,967.9 1043.5,966.4 1047.4,965 1051.3,963.7 1055.3,962.5 1059.3,961.4 1063.3,960.4 1067.3,959.5 1071.4,958.7 1075.4,958 1079.5,957.4 1083.6,957 1087.8,956.6 1091.9,956.3 1096,956.2 1100.2,956.1 1104.3,956.2 1108.4,956.3 1112.5,956.6 1116.7,957 1120.8,957.4 1124.9,958 1128.9,958.7 1133,959.5 1137,960.4 1141,961.4 1145,962.5 1149,963.7 1152.9,965 1156.8,966.4 1160.6,967.9 1164.4,969.5 1168.2,971.2 1171.9,973 1175.6,974.9 1179.2,976.9 1182.8,979 1186.3,981.2 1189.8,983.4 1193.2,985.8 1196.5,988.2 1199.8,990.8 1203,993.4 1206.1,996.1 1209.2,998.8 1212.2,1001.7 1215.1,1004.6 1218,1007.6 1220.7,1010.7 1223.4,1013.8 1226,1017 1228.6,1020.3 1231,1023.6 1233.4,1027 1235.6,1030.5 1237.8,1034 1239.9,1037.6 1241.9,1041.2 1243.8,1044.9 1245.6,1048.6 1247.3,1052.4 1248.9,1056.2 1250.4,1060 1251.8,1063.9 1253.1,1067.8 1254.3,1071.8 1255.4,1075.8 1256.4,1079.8 1257.3,1083.8 1258.1,1087.9 1258.8,1091.9 1259.4,1096 1259.8,1100.1 1260.2,1104.3 1260.5,1108.4 1260.6,1112.5 1260.7,1116.6 1260.7,1122.9 1260.7,1129.2 1260.7,1135.5 1260.7,1141.8M950,1141.5L950,1135.3 950,1129.1 950,1122.9 950,1116.7 950,1112.8 950.2,1108.9 950.4,1105.1 950.8,1101.2 951.2,1097.4 951.8,1093.5 952.4,1089.7 953.2,1085.9 954,1082.2 955,1078.4 956,1074.7 957.1,1071 958.3,1067.3 959.7,1063.7 961.1,1060.1 962.6,1056.5 964.2,1053 965.8,1049.5 967.6,1046.1 969.5,1042.7 971.4,1039.4 973.5,1036.1 975.6,1032.8 977.8,1029.6 980.1,1026.5 982.4,1023.5 984.9,1020.5 987.4,1017.5 990,1014.7 992.6,1011.9 995.4,1009.1 998.2,1006.5 1001,1003.9 1004,1001.4 1007,998.9 1010,996.6 1013.1,994.3 1016.3,992.1 1019.6,990 1022.9,987.9 1026.2,986 1029.6,984.1 1033,982.3 1036.5,980.7 1040,979.1 1043.6,977.6 1047.2,976.2 1050.8,974.8 1054.5,973.6 1058.2,972.5 1061.9,971.5 1065.7,970.5 1069.4,969.7 1073.2,968.9 1077,968.3 1080.9,967.7 1084.7,967.3 1088.6,966.9 1092.4,966.7 1096.3,966.5 1100.2,966.5 1104,966.5 1107.9,966.7 1111.7,966.9 1115.6,967.3 1119.4,967.7 1123.3,968.3 1127.1,968.9 1130.9,969.7 1134.6,970.5 1138.4,971.5 1142.1,972.5 1145.8,973.6 1149.5,974.8 1153.1,976.2 1156.7,977.6 1160.3,979.1 1163.8,980.7 1167.3,982.3 1170.7,984.1 1174.1,986 1177.4,987.9 1180.7,990 1184,992.1 1187.2,994.3 1190.3,996.6 1193.3,998.9 1196.3,1001.4 1199.3,1003.9 1202.1,1006.5 1204.9,1009.1 1207.7,1011.9 1210.3,1014.7 1212.9,1017.5 1215.4,1020.5 1217.9,1023.5 1220.2,1026.5 1222.5,1029.6 1224.7,1032.8 1226.8,1036.1 1228.9,1039.4 1230.8,1042.7 1232.7,1046.1 1234.5,1049.5 1236.1,1053 1237.7,1056.5 1239.2,1060.1 1240.6,1063.7 1242,1067.3 1243.2,1071 1244.3,1074.7 1245.3,1078.4 1246.3,1082.2 1247.1,1085.9 1247.9,1089.7 1248.5,1093.5 1249.1,1097.4 1249.5,1101.2 1249.9,1105.1 1250.1,1108.9 1250.3,1112.8 1250.3,1116.7 1250.3,1122.9 1250.3,1129.2 1250.3,1135.5 1250.3,1141.8" fill="none" stroke="#2a2a2a" stroke-width="1.3"/>
<rect x="938" y="1140.4" width="14" height="4.6" fill="#222" stroke="#222" stroke-width="0.4" />
<path d="M1224.4,1159.7 C1229.4,1148.8 1234.4,1141.8 1240.4,1141.8 H1260.4 C1266.4,1141.8 1279.6,1146.2 1283.6,1151.2" fill="none" stroke="#222" stroke-width="1.4" />
<line x1="1224.4" y1="1159.9" x2="1283.6" y2="1159.9" stroke="#222" stroke-width="1.4" />
<rect x="1239.8" y="1160.5" width="21.2" height="16" fill="#fff" stroke="#444" stroke-width="1.1" />
<line x1="1239.8" y1="1163.2" x2="1261" y2="1163.2" stroke="#555" stroke-width="1.0" />
<line x1="1239.8" y1="1165.9" x2="1261" y2="1165.9" stroke="#555" stroke-width="1.0" />
<line x1="1239.8" y1="1168.6" x2="1261" y2="1168.6" stroke="#555" stroke-width="1.0" />
<line x1="1239.8" y1="1171.3" x2="1261" y2="1171.3" stroke="#555" stroke-width="1.0" />
<line x1="1239.8" y1="1174" x2="1261" y2="1174" stroke="#555" stroke-width="1.0" />
<rect x="1240.4" y="1163.5" width="20" height="2" fill="#bbb" stroke="#bbb" stroke-width="0" />
<circle cx="1476.2" cy="1054.5" r="43.5" fill="none" stroke="#2a2a2a" stroke-width="1.25" />
<circle cx="1465.9" cy="1054.5" r="17" fill="none" stroke="#333" stroke-width="1.3" />
<circle cx="1465.9" cy="1054.5" r="14.3" fill="none" stroke="#555" stroke-width="1.0" />
<circle cx="1466.9" cy="1054.5" r="11.6" fill="none" stroke="#888" stroke-width="0.8" />
<circle cx="1467.7" cy="1054.5" r="8.3" fill="none" stroke="#222" stroke-width="1.6" />
<path d="M1459.1,1048 a9.8,9.8 0 0 0 0,13" fill="none" stroke="#666" stroke-width="1.0" />
<circle cx="1791.2" cy="1047.4" r="50.7" fill="none" stroke="#2a2a2a" stroke-width="1.25" />
<circle cx="1778.6" cy="1047.4" r="17" fill="none" stroke="#333" stroke-width="1.3" />
<circle cx="1778.6" cy="1047.4" r="14.3" fill="none" stroke="#555" stroke-width="1.0" />
<circle cx="1779.6" cy="1047.4" r="11.6" fill="none" stroke="#888" stroke-width="0.8" />
<circle cx="1780.4" cy="1047.4" r="8.3" fill="none" stroke="#222" stroke-width="1.6" />
<path d="M1771.8,1040.9 a9.8,9.8 0 0 0 0,13" fill="none" stroke="#666" stroke-width="1.0" />
</svg>
</body></html>
